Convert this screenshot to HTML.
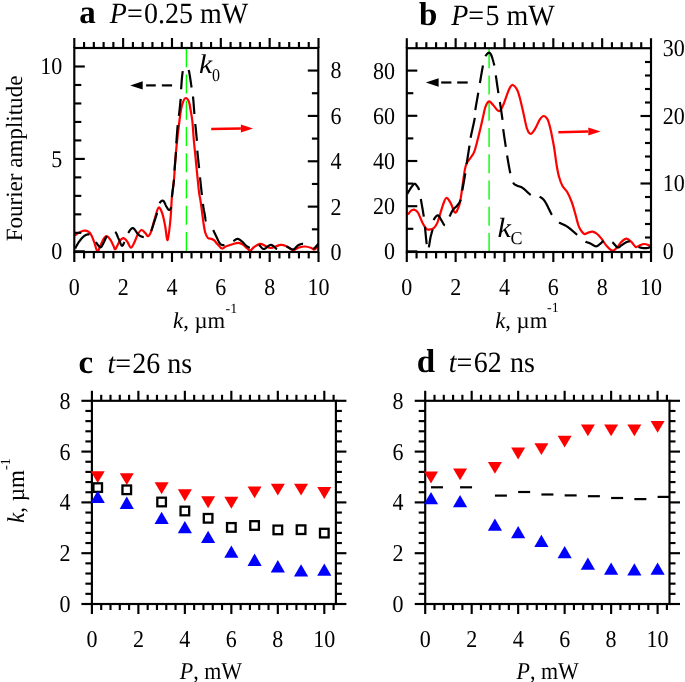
<!DOCTYPE html>
<html><head><meta charset="utf-8"><style>
html,body{margin:0;padding:0;background:#fff;width:685px;height:682px;overflow:hidden;}
svg{display:block;font-family:"Liberation Serif",serif;will-change:transform;}
</style></head><body>
<svg width="685" height="682" viewBox="0 0 685 682" font-family="Liberation Serif, serif" text-rendering="geometricPrecision">
<rect width="685" height="682" fill="#fff"/>
<line x1="91.90" y1="400.80" x2="91.90" y2="390.80" stroke="#000" stroke-width="2.15" />
<line x1="138.38" y1="400.80" x2="138.38" y2="390.80" stroke="#000" stroke-width="2.15" />
<line x1="184.86" y1="400.80" x2="184.86" y2="390.80" stroke="#000" stroke-width="2.15" />
<line x1="231.34" y1="400.80" x2="231.34" y2="390.80" stroke="#000" stroke-width="2.15" />
<line x1="277.82" y1="400.80" x2="277.82" y2="390.80" stroke="#000" stroke-width="2.15" />
<line x1="324.30" y1="400.80" x2="324.30" y2="390.80" stroke="#000" stroke-width="2.15" />
<line x1="101.20" y1="400.80" x2="101.20" y2="394.80" stroke="#000" stroke-width="2.15" />
<line x1="110.49" y1="400.80" x2="110.49" y2="394.80" stroke="#000" stroke-width="2.15" />
<line x1="119.79" y1="400.80" x2="119.79" y2="394.80" stroke="#000" stroke-width="2.15" />
<line x1="129.08" y1="400.80" x2="129.08" y2="394.80" stroke="#000" stroke-width="2.15" />
<line x1="147.68" y1="400.80" x2="147.68" y2="394.80" stroke="#000" stroke-width="2.15" />
<line x1="156.97" y1="400.80" x2="156.97" y2="394.80" stroke="#000" stroke-width="2.15" />
<line x1="166.27" y1="400.80" x2="166.27" y2="394.80" stroke="#000" stroke-width="2.15" />
<line x1="175.56" y1="400.80" x2="175.56" y2="394.80" stroke="#000" stroke-width="2.15" />
<line x1="194.16" y1="400.80" x2="194.16" y2="394.80" stroke="#000" stroke-width="2.15" />
<line x1="203.45" y1="400.80" x2="203.45" y2="394.80" stroke="#000" stroke-width="2.15" />
<line x1="212.75" y1="400.80" x2="212.75" y2="394.80" stroke="#000" stroke-width="2.15" />
<line x1="222.04" y1="400.80" x2="222.04" y2="394.80" stroke="#000" stroke-width="2.15" />
<line x1="240.64" y1="400.80" x2="240.64" y2="394.80" stroke="#000" stroke-width="2.15" />
<line x1="249.93" y1="400.80" x2="249.93" y2="394.80" stroke="#000" stroke-width="2.15" />
<line x1="259.23" y1="400.80" x2="259.23" y2="394.80" stroke="#000" stroke-width="2.15" />
<line x1="268.52" y1="400.80" x2="268.52" y2="394.80" stroke="#000" stroke-width="2.15" />
<line x1="287.12" y1="400.80" x2="287.12" y2="394.80" stroke="#000" stroke-width="2.15" />
<line x1="296.41" y1="400.80" x2="296.41" y2="394.80" stroke="#000" stroke-width="2.15" />
<line x1="305.71" y1="400.80" x2="305.71" y2="394.80" stroke="#000" stroke-width="2.15" />
<line x1="315.00" y1="400.80" x2="315.00" y2="394.80" stroke="#000" stroke-width="2.15" />
<line x1="333.60" y1="400.80" x2="333.60" y2="394.80" stroke="#000" stroke-width="2.15" />
<line x1="91.90" y1="604.00" x2="91.90" y2="614.00" stroke="#000" stroke-width="2.15" />
<line x1="138.38" y1="604.00" x2="138.38" y2="614.00" stroke="#000" stroke-width="2.15" />
<line x1="184.86" y1="604.00" x2="184.86" y2="614.00" stroke="#000" stroke-width="2.15" />
<line x1="231.34" y1="604.00" x2="231.34" y2="614.00" stroke="#000" stroke-width="2.15" />
<line x1="277.82" y1="604.00" x2="277.82" y2="614.00" stroke="#000" stroke-width="2.15" />
<line x1="324.30" y1="604.00" x2="324.30" y2="614.00" stroke="#000" stroke-width="2.15" />
<line x1="101.20" y1="604.00" x2="101.20" y2="610.00" stroke="#000" stroke-width="2.15" />
<line x1="110.49" y1="604.00" x2="110.49" y2="610.00" stroke="#000" stroke-width="2.15" />
<line x1="119.79" y1="604.00" x2="119.79" y2="610.00" stroke="#000" stroke-width="2.15" />
<line x1="129.08" y1="604.00" x2="129.08" y2="610.00" stroke="#000" stroke-width="2.15" />
<line x1="147.68" y1="604.00" x2="147.68" y2="610.00" stroke="#000" stroke-width="2.15" />
<line x1="156.97" y1="604.00" x2="156.97" y2="610.00" stroke="#000" stroke-width="2.15" />
<line x1="166.27" y1="604.00" x2="166.27" y2="610.00" stroke="#000" stroke-width="2.15" />
<line x1="175.56" y1="604.00" x2="175.56" y2="610.00" stroke="#000" stroke-width="2.15" />
<line x1="194.16" y1="604.00" x2="194.16" y2="610.00" stroke="#000" stroke-width="2.15" />
<line x1="203.45" y1="604.00" x2="203.45" y2="610.00" stroke="#000" stroke-width="2.15" />
<line x1="212.75" y1="604.00" x2="212.75" y2="610.00" stroke="#000" stroke-width="2.15" />
<line x1="222.04" y1="604.00" x2="222.04" y2="610.00" stroke="#000" stroke-width="2.15" />
<line x1="240.64" y1="604.00" x2="240.64" y2="610.00" stroke="#000" stroke-width="2.15" />
<line x1="249.93" y1="604.00" x2="249.93" y2="610.00" stroke="#000" stroke-width="2.15" />
<line x1="259.23" y1="604.00" x2="259.23" y2="610.00" stroke="#000" stroke-width="2.15" />
<line x1="268.52" y1="604.00" x2="268.52" y2="610.00" stroke="#000" stroke-width="2.15" />
<line x1="287.12" y1="604.00" x2="287.12" y2="610.00" stroke="#000" stroke-width="2.15" />
<line x1="296.41" y1="604.00" x2="296.41" y2="610.00" stroke="#000" stroke-width="2.15" />
<line x1="305.71" y1="604.00" x2="305.71" y2="610.00" stroke="#000" stroke-width="2.15" />
<line x1="315.00" y1="604.00" x2="315.00" y2="610.00" stroke="#000" stroke-width="2.15" />
<line x1="333.60" y1="604.00" x2="333.60" y2="610.00" stroke="#000" stroke-width="2.15" />
<line x1="91.90" y1="604.00" x2="81.40" y2="604.00" stroke="#000" stroke-width="2.15" />
<line x1="91.90" y1="553.20" x2="81.40" y2="553.20" stroke="#000" stroke-width="2.15" />
<line x1="91.90" y1="502.40" x2="81.40" y2="502.40" stroke="#000" stroke-width="2.15" />
<line x1="91.90" y1="451.60" x2="81.40" y2="451.60" stroke="#000" stroke-width="2.15" />
<line x1="91.90" y1="400.80" x2="81.40" y2="400.80" stroke="#000" stroke-width="2.15" />
<line x1="91.90" y1="593.84" x2="85.40" y2="593.84" stroke="#000" stroke-width="2.15" />
<line x1="91.90" y1="583.68" x2="85.40" y2="583.68" stroke="#000" stroke-width="2.15" />
<line x1="91.90" y1="573.52" x2="85.40" y2="573.52" stroke="#000" stroke-width="2.15" />
<line x1="91.90" y1="563.36" x2="85.40" y2="563.36" stroke="#000" stroke-width="2.15" />
<line x1="91.90" y1="543.04" x2="85.40" y2="543.04" stroke="#000" stroke-width="2.15" />
<line x1="91.90" y1="532.88" x2="85.40" y2="532.88" stroke="#000" stroke-width="2.15" />
<line x1="91.90" y1="522.72" x2="85.40" y2="522.72" stroke="#000" stroke-width="2.15" />
<line x1="91.90" y1="512.56" x2="85.40" y2="512.56" stroke="#000" stroke-width="2.15" />
<line x1="91.90" y1="492.24" x2="85.40" y2="492.24" stroke="#000" stroke-width="2.15" />
<line x1="91.90" y1="482.08" x2="85.40" y2="482.08" stroke="#000" stroke-width="2.15" />
<line x1="91.90" y1="471.92" x2="85.40" y2="471.92" stroke="#000" stroke-width="2.15" />
<line x1="91.90" y1="461.76" x2="85.40" y2="461.76" stroke="#000" stroke-width="2.15" />
<line x1="91.90" y1="441.44" x2="85.40" y2="441.44" stroke="#000" stroke-width="2.15" />
<line x1="91.90" y1="431.28" x2="85.40" y2="431.28" stroke="#000" stroke-width="2.15" />
<line x1="91.90" y1="421.12" x2="85.40" y2="421.12" stroke="#000" stroke-width="2.15" />
<line x1="91.90" y1="410.96" x2="85.40" y2="410.96" stroke="#000" stroke-width="2.15" />
<line x1="335.90" y1="604.00" x2="346.40" y2="604.00" stroke="#000" stroke-width="2.15" />
<line x1="335.90" y1="553.20" x2="346.40" y2="553.20" stroke="#000" stroke-width="2.15" />
<line x1="335.90" y1="502.40" x2="346.40" y2="502.40" stroke="#000" stroke-width="2.15" />
<line x1="335.90" y1="451.60" x2="346.40" y2="451.60" stroke="#000" stroke-width="2.15" />
<line x1="335.90" y1="400.80" x2="346.40" y2="400.80" stroke="#000" stroke-width="2.15" />
<line x1="335.90" y1="593.84" x2="341.90" y2="593.84" stroke="#000" stroke-width="2.15" />
<line x1="335.90" y1="583.68" x2="341.90" y2="583.68" stroke="#000" stroke-width="2.15" />
<line x1="335.90" y1="573.52" x2="341.90" y2="573.52" stroke="#000" stroke-width="2.15" />
<line x1="335.90" y1="563.36" x2="341.90" y2="563.36" stroke="#000" stroke-width="2.15" />
<line x1="335.90" y1="543.04" x2="341.90" y2="543.04" stroke="#000" stroke-width="2.15" />
<line x1="335.90" y1="532.88" x2="341.90" y2="532.88" stroke="#000" stroke-width="2.15" />
<line x1="335.90" y1="522.72" x2="341.90" y2="522.72" stroke="#000" stroke-width="2.15" />
<line x1="335.90" y1="512.56" x2="341.90" y2="512.56" stroke="#000" stroke-width="2.15" />
<line x1="335.90" y1="492.24" x2="341.90" y2="492.24" stroke="#000" stroke-width="2.15" />
<line x1="335.90" y1="482.08" x2="341.90" y2="482.08" stroke="#000" stroke-width="2.15" />
<line x1="335.90" y1="471.92" x2="341.90" y2="471.92" stroke="#000" stroke-width="2.15" />
<line x1="335.90" y1="461.76" x2="341.90" y2="461.76" stroke="#000" stroke-width="2.15" />
<line x1="335.90" y1="441.44" x2="341.90" y2="441.44" stroke="#000" stroke-width="2.15" />
<line x1="335.90" y1="431.28" x2="341.90" y2="431.28" stroke="#000" stroke-width="2.15" />
<line x1="335.90" y1="421.12" x2="341.90" y2="421.12" stroke="#000" stroke-width="2.15" />
<line x1="335.90" y1="410.96" x2="341.90" y2="410.96" stroke="#000" stroke-width="2.15" />
<line x1="425.20" y1="400.80" x2="425.20" y2="390.80" stroke="#000" stroke-width="2.15" />
<line x1="471.68" y1="400.80" x2="471.68" y2="390.80" stroke="#000" stroke-width="2.15" />
<line x1="518.16" y1="400.80" x2="518.16" y2="390.80" stroke="#000" stroke-width="2.15" />
<line x1="564.64" y1="400.80" x2="564.64" y2="390.80" stroke="#000" stroke-width="2.15" />
<line x1="611.12" y1="400.80" x2="611.12" y2="390.80" stroke="#000" stroke-width="2.15" />
<line x1="657.60" y1="400.80" x2="657.60" y2="390.80" stroke="#000" stroke-width="2.15" />
<line x1="434.50" y1="400.80" x2="434.50" y2="394.80" stroke="#000" stroke-width="2.15" />
<line x1="443.79" y1="400.80" x2="443.79" y2="394.80" stroke="#000" stroke-width="2.15" />
<line x1="453.09" y1="400.80" x2="453.09" y2="394.80" stroke="#000" stroke-width="2.15" />
<line x1="462.38" y1="400.80" x2="462.38" y2="394.80" stroke="#000" stroke-width="2.15" />
<line x1="480.98" y1="400.80" x2="480.98" y2="394.80" stroke="#000" stroke-width="2.15" />
<line x1="490.27" y1="400.80" x2="490.27" y2="394.80" stroke="#000" stroke-width="2.15" />
<line x1="499.57" y1="400.80" x2="499.57" y2="394.80" stroke="#000" stroke-width="2.15" />
<line x1="508.86" y1="400.80" x2="508.86" y2="394.80" stroke="#000" stroke-width="2.15" />
<line x1="527.46" y1="400.80" x2="527.46" y2="394.80" stroke="#000" stroke-width="2.15" />
<line x1="536.75" y1="400.80" x2="536.75" y2="394.80" stroke="#000" stroke-width="2.15" />
<line x1="546.05" y1="400.80" x2="546.05" y2="394.80" stroke="#000" stroke-width="2.15" />
<line x1="555.34" y1="400.80" x2="555.34" y2="394.80" stroke="#000" stroke-width="2.15" />
<line x1="573.94" y1="400.80" x2="573.94" y2="394.80" stroke="#000" stroke-width="2.15" />
<line x1="583.23" y1="400.80" x2="583.23" y2="394.80" stroke="#000" stroke-width="2.15" />
<line x1="592.53" y1="400.80" x2="592.53" y2="394.80" stroke="#000" stroke-width="2.15" />
<line x1="601.82" y1="400.80" x2="601.82" y2="394.80" stroke="#000" stroke-width="2.15" />
<line x1="620.42" y1="400.80" x2="620.42" y2="394.80" stroke="#000" stroke-width="2.15" />
<line x1="629.71" y1="400.80" x2="629.71" y2="394.80" stroke="#000" stroke-width="2.15" />
<line x1="639.01" y1="400.80" x2="639.01" y2="394.80" stroke="#000" stroke-width="2.15" />
<line x1="648.30" y1="400.80" x2="648.30" y2="394.80" stroke="#000" stroke-width="2.15" />
<line x1="666.90" y1="400.80" x2="666.90" y2="394.80" stroke="#000" stroke-width="2.15" />
<line x1="425.20" y1="604.00" x2="425.20" y2="614.00" stroke="#000" stroke-width="2.15" />
<line x1="471.68" y1="604.00" x2="471.68" y2="614.00" stroke="#000" stroke-width="2.15" />
<line x1="518.16" y1="604.00" x2="518.16" y2="614.00" stroke="#000" stroke-width="2.15" />
<line x1="564.64" y1="604.00" x2="564.64" y2="614.00" stroke="#000" stroke-width="2.15" />
<line x1="611.12" y1="604.00" x2="611.12" y2="614.00" stroke="#000" stroke-width="2.15" />
<line x1="657.60" y1="604.00" x2="657.60" y2="614.00" stroke="#000" stroke-width="2.15" />
<line x1="434.50" y1="604.00" x2="434.50" y2="610.00" stroke="#000" stroke-width="2.15" />
<line x1="443.79" y1="604.00" x2="443.79" y2="610.00" stroke="#000" stroke-width="2.15" />
<line x1="453.09" y1="604.00" x2="453.09" y2="610.00" stroke="#000" stroke-width="2.15" />
<line x1="462.38" y1="604.00" x2="462.38" y2="610.00" stroke="#000" stroke-width="2.15" />
<line x1="480.98" y1="604.00" x2="480.98" y2="610.00" stroke="#000" stroke-width="2.15" />
<line x1="490.27" y1="604.00" x2="490.27" y2="610.00" stroke="#000" stroke-width="2.15" />
<line x1="499.57" y1="604.00" x2="499.57" y2="610.00" stroke="#000" stroke-width="2.15" />
<line x1="508.86" y1="604.00" x2="508.86" y2="610.00" stroke="#000" stroke-width="2.15" />
<line x1="527.46" y1="604.00" x2="527.46" y2="610.00" stroke="#000" stroke-width="2.15" />
<line x1="536.75" y1="604.00" x2="536.75" y2="610.00" stroke="#000" stroke-width="2.15" />
<line x1="546.05" y1="604.00" x2="546.05" y2="610.00" stroke="#000" stroke-width="2.15" />
<line x1="555.34" y1="604.00" x2="555.34" y2="610.00" stroke="#000" stroke-width="2.15" />
<line x1="573.94" y1="604.00" x2="573.94" y2="610.00" stroke="#000" stroke-width="2.15" />
<line x1="583.23" y1="604.00" x2="583.23" y2="610.00" stroke="#000" stroke-width="2.15" />
<line x1="592.53" y1="604.00" x2="592.53" y2="610.00" stroke="#000" stroke-width="2.15" />
<line x1="601.82" y1="604.00" x2="601.82" y2="610.00" stroke="#000" stroke-width="2.15" />
<line x1="620.42" y1="604.00" x2="620.42" y2="610.00" stroke="#000" stroke-width="2.15" />
<line x1="629.71" y1="604.00" x2="629.71" y2="610.00" stroke="#000" stroke-width="2.15" />
<line x1="639.01" y1="604.00" x2="639.01" y2="610.00" stroke="#000" stroke-width="2.15" />
<line x1="648.30" y1="604.00" x2="648.30" y2="610.00" stroke="#000" stroke-width="2.15" />
<line x1="666.90" y1="604.00" x2="666.90" y2="610.00" stroke="#000" stroke-width="2.15" />
<line x1="425.20" y1="604.00" x2="414.70" y2="604.00" stroke="#000" stroke-width="2.15" />
<line x1="425.20" y1="553.20" x2="414.70" y2="553.20" stroke="#000" stroke-width="2.15" />
<line x1="425.20" y1="502.40" x2="414.70" y2="502.40" stroke="#000" stroke-width="2.15" />
<line x1="425.20" y1="451.60" x2="414.70" y2="451.60" stroke="#000" stroke-width="2.15" />
<line x1="425.20" y1="400.80" x2="414.70" y2="400.80" stroke="#000" stroke-width="2.15" />
<line x1="425.20" y1="593.84" x2="418.70" y2="593.84" stroke="#000" stroke-width="2.15" />
<line x1="425.20" y1="583.68" x2="418.70" y2="583.68" stroke="#000" stroke-width="2.15" />
<line x1="425.20" y1="573.52" x2="418.70" y2="573.52" stroke="#000" stroke-width="2.15" />
<line x1="425.20" y1="563.36" x2="418.70" y2="563.36" stroke="#000" stroke-width="2.15" />
<line x1="425.20" y1="543.04" x2="418.70" y2="543.04" stroke="#000" stroke-width="2.15" />
<line x1="425.20" y1="532.88" x2="418.70" y2="532.88" stroke="#000" stroke-width="2.15" />
<line x1="425.20" y1="522.72" x2="418.70" y2="522.72" stroke="#000" stroke-width="2.15" />
<line x1="425.20" y1="512.56" x2="418.70" y2="512.56" stroke="#000" stroke-width="2.15" />
<line x1="425.20" y1="492.24" x2="418.70" y2="492.24" stroke="#000" stroke-width="2.15" />
<line x1="425.20" y1="482.08" x2="418.70" y2="482.08" stroke="#000" stroke-width="2.15" />
<line x1="425.20" y1="471.92" x2="418.70" y2="471.92" stroke="#000" stroke-width="2.15" />
<line x1="425.20" y1="461.76" x2="418.70" y2="461.76" stroke="#000" stroke-width="2.15" />
<line x1="425.20" y1="441.44" x2="418.70" y2="441.44" stroke="#000" stroke-width="2.15" />
<line x1="425.20" y1="431.28" x2="418.70" y2="431.28" stroke="#000" stroke-width="2.15" />
<line x1="425.20" y1="421.12" x2="418.70" y2="421.12" stroke="#000" stroke-width="2.15" />
<line x1="425.20" y1="410.96" x2="418.70" y2="410.96" stroke="#000" stroke-width="2.15" />
<line x1="669.50" y1="604.00" x2="680.00" y2="604.00" stroke="#000" stroke-width="2.15" />
<line x1="669.50" y1="553.20" x2="680.00" y2="553.20" stroke="#000" stroke-width="2.15" />
<line x1="669.50" y1="502.40" x2="680.00" y2="502.40" stroke="#000" stroke-width="2.15" />
<line x1="669.50" y1="451.60" x2="680.00" y2="451.60" stroke="#000" stroke-width="2.15" />
<line x1="669.50" y1="400.80" x2="680.00" y2="400.80" stroke="#000" stroke-width="2.15" />
<line x1="669.50" y1="593.84" x2="675.50" y2="593.84" stroke="#000" stroke-width="2.15" />
<line x1="669.50" y1="583.68" x2="675.50" y2="583.68" stroke="#000" stroke-width="2.15" />
<line x1="669.50" y1="573.52" x2="675.50" y2="573.52" stroke="#000" stroke-width="2.15" />
<line x1="669.50" y1="563.36" x2="675.50" y2="563.36" stroke="#000" stroke-width="2.15" />
<line x1="669.50" y1="543.04" x2="675.50" y2="543.04" stroke="#000" stroke-width="2.15" />
<line x1="669.50" y1="532.88" x2="675.50" y2="532.88" stroke="#000" stroke-width="2.15" />
<line x1="669.50" y1="522.72" x2="675.50" y2="522.72" stroke="#000" stroke-width="2.15" />
<line x1="669.50" y1="512.56" x2="675.50" y2="512.56" stroke="#000" stroke-width="2.15" />
<line x1="669.50" y1="492.24" x2="675.50" y2="492.24" stroke="#000" stroke-width="2.15" />
<line x1="669.50" y1="482.08" x2="675.50" y2="482.08" stroke="#000" stroke-width="2.15" />
<line x1="669.50" y1="471.92" x2="675.50" y2="471.92" stroke="#000" stroke-width="2.15" />
<line x1="669.50" y1="461.76" x2="675.50" y2="461.76" stroke="#000" stroke-width="2.15" />
<line x1="669.50" y1="441.44" x2="675.50" y2="441.44" stroke="#000" stroke-width="2.15" />
<line x1="669.50" y1="431.28" x2="675.50" y2="431.28" stroke="#000" stroke-width="2.15" />
<line x1="669.50" y1="421.12" x2="675.50" y2="421.12" stroke="#000" stroke-width="2.15" />
<line x1="669.50" y1="410.96" x2="675.50" y2="410.96" stroke="#000" stroke-width="2.15" />
<path d="M186.4,251.1 L186.4,48" stroke="#00ff00" stroke-width="1.4" stroke-dasharray="19 7.25" fill="none"/>
<path d="M489.1,252 L489.1,48" stroke="#00ff00" stroke-width="1.4" stroke-dasharray="19 7.25" fill="none"/>
<path d="M74.80,235.30 C75.63,234.80 78.23,233.07 79.80,232.30 C81.37,231.53 82.73,230.78 84.20,230.70 C85.67,230.62 87.38,231.02 88.60,231.80 C89.82,232.58 90.53,233.58 91.50,235.40 C92.47,237.22 93.42,240.05 94.40,242.70 C95.38,245.35 96.42,250.80 97.40,251.30 C98.38,251.80 99.22,247.85 100.30,245.70 C101.38,243.55 102.82,239.98 103.90,238.40 C104.98,236.82 105.70,235.97 106.80,236.20 C107.90,236.43 109.40,238.22 110.50,239.80 C111.60,241.38 112.58,244.17 113.40,245.70 C114.22,247.23 114.38,249.72 115.40,249.00 C116.42,248.28 118.18,243.22 119.50,241.40 C120.82,239.58 122.03,238.10 123.30,238.10 C124.57,238.10 125.82,239.82 127.10,241.40 C128.38,242.98 129.72,247.60 131.00,247.60 C132.28,247.60 133.70,243.53 134.80,241.40 C135.90,239.27 136.50,236.70 137.60,234.80 C138.70,232.90 140.13,230.32 141.40,230.00 C142.67,229.68 144.08,231.87 145.20,232.90 C146.32,233.93 147.13,236.37 148.10,236.20 C149.07,236.03 149.88,234.83 151.00,231.90 C152.12,228.97 153.53,222.65 154.80,218.60 C156.07,214.55 157.33,208.40 158.60,207.60 C159.87,206.80 161.30,210.70 162.40,213.80 C163.50,216.90 164.33,221.83 165.20,226.20 C166.07,230.57 166.73,241.03 167.60,240.00 C168.47,238.97 169.68,227.13 170.40,220.00 C171.12,212.87 171.30,203.92 171.90,197.20 C172.50,190.48 173.47,185.45 174.00,179.70 C174.53,173.95 174.72,167.87 175.10,162.70 C175.48,157.53 175.87,153.20 176.30,148.70 C176.73,144.20 177.17,140.40 177.70,135.70 C178.23,131.00 178.92,124.98 179.50,120.50 C180.08,116.02 180.52,112.12 181.20,108.80 C181.88,105.48 182.82,102.40 183.60,100.60 C184.38,98.80 185.02,97.82 185.90,98.00 C186.78,98.18 188.12,99.70 188.90,101.70 C189.68,103.70 190.02,106.67 190.60,110.00 C191.18,113.33 191.87,116.70 192.40,121.70 C192.93,126.70 193.35,134.78 193.80,140.00 C194.25,145.22 194.67,148.60 195.10,153.00 C195.53,157.40 195.97,161.98 196.40,166.40 C196.83,170.82 197.25,175.10 197.70,179.50 C198.15,183.90 198.65,189.38 199.10,192.80 C199.55,196.22 199.95,197.13 200.40,200.00 C200.85,202.87 201.28,206.15 201.80,210.00 C202.32,213.85 202.92,219.30 203.50,223.10 C204.08,226.90 204.57,230.32 205.30,232.80 C206.03,235.28 206.88,236.98 207.90,238.00 C208.92,239.02 210.38,238.53 211.40,238.90 C212.42,239.27 212.98,239.32 214.00,240.20 C215.02,241.08 216.18,242.82 217.50,244.20 C218.82,245.58 220.43,248.15 221.90,248.50 C223.37,248.85 224.55,247.02 226.30,246.30 C228.05,245.58 230.37,244.78 232.40,244.20 C234.43,243.62 236.75,242.73 238.50,242.80 C240.25,242.87 241.43,243.65 242.90,244.60 C244.37,245.55 246.05,247.52 247.30,248.50 C248.55,249.48 249.23,250.78 250.40,250.50 C251.57,250.22 252.67,247.90 254.30,246.80 C255.93,245.70 258.37,244.05 260.20,243.90 C262.03,243.75 263.60,245.22 265.30,245.90 C267.00,246.58 268.70,247.90 270.40,248.00 C272.10,248.10 273.78,247.02 275.50,246.50 C277.22,245.98 278.98,245.00 280.70,244.90 C282.42,244.80 284.10,245.22 285.80,245.90 C287.50,246.58 289.55,248.32 290.90,249.00 C292.25,249.68 292.55,250.25 293.90,250.00 C295.25,249.75 297.12,248.08 299.00,247.50 C300.88,246.92 303.15,246.42 305.20,246.50 C307.25,246.58 309.77,247.50 311.30,248.00 C312.83,248.50 313.23,249.78 314.40,249.50 C315.57,249.22 317.65,246.83 318.30,246.30" stroke="#ff0000" stroke-width="2.2" fill="none" stroke-linejoin="round"/>
<path d="M75.10,248.60 L75.17,248.47 L75.26,248.31 L75.35,248.14 L75.45,247.95 L75.55,247.75 L75.67,247.53 L75.79,247.30 L75.91,247.06 L76.05,246.80 L76.19,246.54 L76.33,246.27 L76.47,245.99 L76.63,245.71 L76.78,245.43 L76.94,245.14 L77.10,244.86 L77.26,244.57 L77.42,244.29 L77.58,244.00 L77.75,243.73 L77.91,243.46 L78.08,243.20 L78.24,242.94 L78.40,242.70 L78.56,242.46 L78.73,242.22 L78.90,241.97 L79.08,241.72 L79.26,241.47 L79.44,241.22 L79.63,240.97 L79.81,240.72 L80.00,240.47 L80.20,240.22 L80.39,239.98 L80.58,239.73 L80.77,239.49 L80.97,239.25 L81.16,239.02 L81.35,238.79 L81.54,238.57 L81.73,238.35 L81.92,238.14 L82.10,237.93 L82.28,237.74 L82.46,237.55 L82.63,237.37 L82.80,237.20 L82.97,237.04 L83.13,236.88 L83.29,236.74 L83.45,236.60 L83.61,236.46 L83.77,236.33 L83.92,236.21 L84.08,236.09 L84.23,235.98 L84.38,235.87 L84.53,235.77 L84.68,235.67 L84.83,235.58 L84.98,235.49 L85.12,235.40 L85.27,235.32 L85.41,235.25 L85.55,235.17 L85.70,235.10 L85.84,235.04 L85.98,234.97 L86.12,234.91 L86.26,234.86 L86.40,234.80 L86.54,234.75 L86.68,234.70 L86.81,234.65 L86.95,234.61 L87.08,234.57 L87.21,234.53 L87.34,234.50 L87.47,234.47 L87.60,234.44 L87.73,234.42 L87.86,234.40 L87.99,234.39 L88.11,234.38 L88.24,234.37 L88.37,234.37 L88.49,234.38 L88.62,234.39 L88.74,234.40 L88.87,234.42 L88.99,234.45 L89.12,234.48 L89.25,234.51 L89.37,234.55 L89.50,234.60 M95.90,242.00 L96.02,242.18 L96.14,242.36 L96.26,242.54 L96.38,242.72 L96.50,242.90 L96.61,243.08 L96.72,243.26 L96.83,243.43 L96.94,243.61 L97.05,243.78 L97.15,243.95 L97.26,244.12 L97.36,244.28 L97.46,244.44 L97.57,244.60 L97.67,244.76 L97.77,244.90 L97.88,245.05 L97.98,245.19 L98.08,245.32 L98.19,245.45 L98.29,245.57 L98.39,245.69 L98.50,245.80 L98.61,245.91 L98.71,246.02 L98.81,246.13 L98.92,246.24 L99.02,246.34 L99.12,246.45 L99.22,246.55 L99.32,246.66 L99.42,246.75 L99.52,246.84 L99.62,246.93 L99.72,247.01 L99.83,247.08 L99.93,247.14 L100.03,247.19 L100.13,247.23 L100.24,247.26 L100.34,247.28 L100.45,247.29 L100.56,247.28 L100.66,247.26 L100.77,247.22 L100.89,247.17 L101.00,247.10 L101.12,247.01 L101.23,246.90 L101.35,246.77 L101.47,246.63 L101.60,246.47 L101.72,246.29 L101.84,246.10 L101.97,245.90 L102.10,245.69 L102.22,245.46 L102.35,245.23 L102.48,244.99 L102.61,244.75 L102.74,244.50 L102.87,244.25 L103.00,243.99 L103.12,243.73 L103.25,243.47 L103.38,243.22 L103.51,242.96 L103.63,242.71 L103.76,242.47 L103.88,242.23 L104.00,242.00 L104.12,241.77 L104.24,241.53 L104.35,241.29 L104.46,241.05 L104.58,240.80 L104.69,240.55 L104.80,240.30 L104.90,240.04 L105.01,239.78 L105.12,239.53 L105.23,239.27 L105.34,239.01 L105.45,238.76 L105.56,238.50 L105.67,238.25 L105.79,238.00 L105.90,237.76 L106.02,237.52 L106.14,237.28 L106.27,237.05 L106.39,236.83 L106.53,236.61 L106.66,236.40 L106.80,236.20 M115.20,231.90 L115.36,232.04 L115.51,232.20 L115.66,232.38 L115.81,232.58 L115.96,232.79 L116.10,233.03 L116.24,233.28 L116.38,233.54 L116.51,233.82 L116.65,234.11 L116.78,234.41 L116.91,234.71 L117.04,235.03 L117.17,235.34 L117.30,235.66 L117.43,235.99 L117.56,236.31 L117.69,236.64 L117.82,236.96 L117.96,237.28 L118.09,237.60 L118.23,237.91 L118.36,238.21 L118.50,238.50 L118.64,238.80 L118.78,239.11 L118.93,239.45 L119.07,239.79 L119.22,240.15 L119.37,240.52 L119.51,240.89 L119.66,241.26 L119.81,241.64 L119.96,242.01 L120.11,242.39 L120.26,242.75 L120.40,243.11 L120.55,243.45 L120.69,243.78 L120.84,244.09 L120.98,244.39 L121.12,244.66 L121.26,244.91 L121.39,245.13 L121.52,245.32 L121.65,245.48 L121.78,245.61 L121.90,245.70 L122.02,245.75 L122.14,245.78 L122.25,245.77 L122.37,245.73 L122.48,245.66 L122.59,245.57 L122.69,245.46 L122.80,245.33 L122.90,245.17 L123.01,245.00 L123.11,244.82 L123.21,244.62 L123.30,244.41 L123.40,244.19 L123.50,243.96 L123.59,243.73 L123.68,243.49 L123.77,243.26 L123.86,243.02 L123.95,242.78 L124.04,242.55 L124.13,242.33 L124.21,242.11 L124.30,241.90 M128.10,232.90 L128.25,232.72 L128.40,232.52 L128.56,232.30 L128.73,232.07 L128.91,231.81 L129.09,231.55 L129.28,231.28 L129.47,231.00 L129.66,230.72 L129.86,230.44 L130.07,230.16 L130.27,229.89 L130.49,229.62 L130.70,229.37 L130.92,229.13 L131.13,228.91 L131.35,228.71 L131.57,228.53 L131.79,228.38 L132.02,228.25 L132.24,228.16 L132.46,228.10 L132.68,228.08 L132.90,228.10 L133.12,228.16 L133.35,228.27 L133.57,228.42 L133.80,228.60 L134.04,228.82 L134.27,229.07 L134.51,229.35 L134.75,229.64 L134.99,229.96 L135.24,230.30 L135.48,230.65 L135.72,231.01 L135.97,231.37 L136.21,231.74 L136.46,232.10 L136.70,232.47 L136.95,232.82 L137.19,233.16 L137.43,233.49 L137.67,233.80 L137.91,234.09 L138.14,234.36 L138.37,234.60 L138.60,234.80 L138.83,234.98 L139.06,235.16 L139.28,235.32 L139.51,235.48 L139.74,235.63 L139.97,235.78 L140.20,235.91 L140.43,236.04 L140.65,236.16 L140.88,236.27 L141.10,236.37 L141.32,236.47 L141.55,236.56 L141.76,236.64 L141.98,236.72 L142.20,236.79 L142.41,236.85 L142.62,236.90 L142.82,236.95 L143.03,236.99 L143.23,237.03 L143.42,237.06 L143.61,237.08 L143.80,237.10 M151.00,231.00 L151.14,230.71 L151.28,230.41 L151.42,230.09 L151.55,229.76 L151.69,229.42 L151.83,229.07 L151.96,228.71 L152.10,228.34 L152.24,227.96 L152.37,227.57 L152.50,227.18 L152.64,226.79 L152.77,226.39 L152.90,225.98 L153.04,225.58 L153.17,225.17 L153.30,224.77 L153.43,224.36 L153.56,223.96 L153.69,223.56 L153.82,223.16 L153.94,222.77 L154.07,222.38 L154.20,222.00 L154.33,221.62 L154.45,221.25 L154.58,220.87 L154.71,220.49 L154.83,220.12 L154.96,219.74 L155.08,219.37 L155.20,218.99 L155.33,218.62 L155.45,218.24 L155.57,217.86 L155.69,217.49 L155.81,217.11 L155.94,216.73 L156.05,216.35 L156.17,215.97 L156.29,215.59 L156.41,215.21 L156.53,214.83 L156.64,214.45 L156.76,214.06 L156.87,213.68 L156.99,213.29 L157.10,212.90 M159.60,203.30 L159.73,203.05 L159.86,202.82 L160.00,202.59 L160.14,202.38 L160.29,202.18 L160.43,201.99 L160.58,201.81 L160.74,201.64 L160.89,201.49 L161.05,201.35 L161.20,201.22 L161.36,201.11 L161.52,201.00 L161.68,200.92 L161.84,200.84 L162.00,200.78 L162.15,200.73 L162.31,200.70 L162.46,200.68 L162.62,200.67 L162.77,200.68 L162.91,200.71 L163.06,200.75 L163.20,200.80 L163.34,200.88 L163.48,200.98 L163.61,201.12 L163.75,201.28 L163.89,201.46 L164.02,201.66 L164.16,201.88 L164.29,202.11 L164.42,202.36 L164.55,202.62 L164.68,202.89 L164.81,203.17 L164.94,203.45 L165.07,203.74 L165.20,204.03 L165.32,204.31 L165.45,204.59 L165.57,204.87 L165.70,205.14 L165.82,205.40 L165.94,205.65 L166.06,205.88 L166.18,206.10 L166.30,206.30 L166.42,206.49 L166.54,206.69 L166.65,206.89 L166.77,207.09 L166.88,207.29 L166.99,207.49 L167.11,207.68 L167.22,207.88 L167.33,208.07 L167.44,208.26 L167.55,208.45 L167.66,208.63 L167.76,208.80 L167.87,208.96 L167.98,209.11 L168.08,209.25 L168.19,209.38 L168.29,209.50 L168.39,209.61 L168.50,209.70 L168.60,209.77 L168.70,209.83 L168.80,209.88 L168.90,209.90 L169.00,209.91 L169.10,209.91 L169.20,209.90 L169.31,209.87 L169.41,209.84 L169.51,209.79 L169.61,209.74 L169.71,209.67 L169.82,209.59 L169.92,209.50 L170.01,209.40 L170.11,209.29 L170.21,209.16 L170.30,209.03 L170.40,208.88 L170.49,208.72 L170.57,208.55 L170.66,208.36 L170.74,208.17 L170.82,207.96 L170.89,207.74 L170.97,207.50 L171.04,207.26 L171.10,207.00 M171.90,197.20 L171.96,196.61 L172.03,195.98 L172.11,195.32 L172.19,194.63 L172.28,193.91 L172.37,193.17 L172.47,192.41 L172.56,191.63 L172.66,190.84 L172.76,190.03 L172.87,189.22 L172.97,188.41 L173.07,187.60 L173.17,186.79 L173.27,185.99 L173.37,185.20 L173.47,184.43 L173.56,183.67 L173.64,182.94 L173.73,182.23 L173.81,181.54 L173.88,180.89 L173.94,180.28 L174.00,179.70 M174.50,170.50 L174.54,169.90 L174.59,169.25 L174.65,168.56 L174.71,167.84 L174.77,167.08 L174.83,166.30 L174.90,165.49 L174.97,164.66 L175.04,163.81 L175.11,162.95 L175.19,162.08 L175.26,161.21 L175.34,160.34 L175.41,159.48 L175.48,158.62 L175.55,157.78 L175.62,156.95 L175.69,156.15 L175.75,155.37 L175.81,154.62 L175.86,153.90 L175.91,153.22 L175.96,152.59 L176.00,152.00 M176.30,143.40 L176.34,142.82 L176.38,142.19 L176.42,141.52 L176.47,140.82 L176.52,140.08 L176.58,139.32 L176.63,138.53 L176.69,137.72 L176.75,136.89 L176.82,136.05 L176.88,135.20 L176.94,134.35 L177.01,133.50 L177.08,132.65 L177.14,131.80 L177.21,130.97 L177.27,130.15 L177.34,129.36 L177.40,128.58 L177.47,127.84 L177.53,127.12 L177.59,126.44 L177.64,125.80 L177.70,125.20 M178.90,115.80 L178.96,115.23 L179.03,114.63 L179.11,113.99 L179.18,113.32 L179.26,112.63 L179.34,111.91 L179.42,111.17 L179.51,110.42 L179.59,109.65 L179.68,108.88 L179.76,108.09 L179.85,107.31 L179.93,106.52 L180.02,105.74 L180.10,104.96 L180.18,104.19 L180.26,103.44 L180.33,102.70 L180.41,101.98 L180.47,101.29 L180.54,100.62 L180.60,99.98 L180.65,99.37 L180.70,98.80 M181.10,89.30 L181.14,88.70 L181.19,88.05 L181.24,87.35 L181.29,86.62 L181.35,85.85 L181.41,85.05 L181.46,84.22 L181.53,83.38 L181.59,82.52 L181.66,81.65 L181.72,80.78 L181.79,79.91 L181.87,79.04 L181.94,78.17 L182.02,77.33 L182.10,76.50 L182.18,75.69 L182.26,74.91 L182.35,74.17 L182.43,73.46 L182.52,72.79 L182.61,72.18 L182.71,71.61 L182.80,71.10 M188.70,70.00 L188.82,70.47 L188.95,71.00 L189.08,71.59 L189.21,72.22 L189.34,72.89 L189.47,73.60 L189.60,74.35 L189.73,75.13 L189.86,75.93 L189.99,76.74 L190.12,77.58 L190.25,78.42 L190.38,79.27 L190.50,80.11 L190.63,80.95 L190.75,81.79 L190.87,82.60 L190.98,83.40 L191.10,84.17 L191.20,84.92 L191.31,85.62 L191.41,86.30 L191.51,86.92 L191.60,87.50 M193.00,96.50 L193.06,97.07 L193.12,97.68 L193.18,98.33 L193.24,99.01 L193.30,99.72 L193.36,100.45 L193.42,101.21 L193.49,101.98 L193.55,102.77 L193.61,103.57 L193.67,104.38 L193.73,105.19 L193.79,106.00 L193.85,106.81 L193.91,107.61 L193.97,108.41 L194.03,109.19 L194.09,109.95 L194.14,110.70 L194.20,111.42 L194.25,112.11 L194.30,112.78 L194.35,113.41 L194.40,114.00 M195.30,124.00 L195.35,124.58 L195.41,125.19 L195.47,125.83 L195.54,126.50 L195.61,127.19 L195.68,127.91 L195.75,128.64 L195.83,129.39 L195.90,130.15 L195.98,130.92 L196.05,131.69 L196.13,132.47 L196.21,133.25 L196.28,134.02 L196.36,134.79 L196.43,135.54 L196.50,136.29 L196.57,137.02 L196.63,137.73 L196.69,138.42 L196.75,139.08 L196.81,139.72 L196.86,140.33 L196.90,140.90 M197.30,150.60 L197.35,151.19 L197.40,151.81 L197.46,152.47 L197.53,153.16 L197.60,153.88 L197.67,154.62 L197.75,155.38 L197.83,156.16 L197.91,156.95 L198.00,157.75 L198.08,158.56 L198.17,159.37 L198.26,160.19 L198.34,160.99 L198.43,161.80 L198.51,162.59 L198.60,163.36 L198.68,164.12 L198.76,164.86 L198.84,165.57 L198.91,166.25 L198.98,166.90 L199.04,167.52 L199.10,168.10 M200.00,177.40 L200.06,177.98 L200.13,178.60 L200.20,179.26 L200.27,179.95 L200.35,180.68 L200.43,181.42 L200.51,182.19 L200.59,182.98 L200.68,183.78 L200.77,184.59 L200.85,185.41 L200.94,186.23 L201.03,187.05 L201.12,187.87 L201.21,188.68 L201.30,189.48 L201.38,190.26 L201.46,191.02 L201.55,191.77 L201.62,192.48 L201.70,193.16 L201.77,193.82 L201.84,194.43 L201.90,195.00 M202.90,203.80 L202.95,204.15 L203.00,204.50 L203.05,204.85 L203.11,205.19 L203.16,205.53 L203.21,205.86 L203.27,206.20 L203.32,206.53 L203.38,206.87 L203.43,207.20 L203.49,207.53 L203.55,207.86 L203.61,208.20 L203.67,208.53 L203.73,208.86 L203.79,209.20 L203.85,209.54 L203.91,209.88 L203.98,210.22 L204.04,210.57 L204.10,210.92 L204.17,211.28 L204.23,211.64 L204.30,212.00 L204.37,212.37 L204.43,212.76 L204.49,213.15 L204.56,213.55 L204.62,213.95 L204.68,214.37 L204.75,214.78 L204.81,215.20 L204.88,215.63 L204.94,216.05 L205.01,216.47 L205.08,216.89 L205.14,217.31 L205.22,217.73 L205.29,218.14 L205.37,218.54 L205.45,218.94 L205.53,219.32 L205.61,219.70 L205.70,220.07 L205.80,220.42 L205.89,220.76 L205.99,221.09 L206.10,221.40 M213.10,230.10 L213.24,230.31 L213.37,230.52 L213.51,230.75 L213.64,230.97 L213.77,231.21 L213.90,231.45 L214.03,231.69 L214.16,231.94 L214.28,232.20 L214.41,232.46 L214.53,232.72 L214.66,232.99 L214.78,233.26 L214.91,233.53 L215.03,233.80 L215.16,234.08 L215.28,234.35 L215.41,234.63 L215.54,234.91 L215.67,235.19 L215.80,235.47 L215.93,235.75 L216.06,236.02 L216.20,236.30 L216.34,236.58 L216.48,236.87 L216.63,237.17 L216.78,237.48 L216.93,237.80 L217.08,238.12 L217.23,238.45 L217.39,238.77 L217.54,239.10 L217.70,239.43 L217.85,239.76 L218.01,240.09 L218.16,240.41 L218.31,240.73 L218.47,241.04 L218.61,241.34 L218.76,241.63 L218.91,241.91 L219.05,242.18 L219.19,242.44 L219.32,242.68 L219.45,242.90 L219.58,243.11 L219.70,243.30 L219.82,243.47 L219.93,243.63 L220.03,243.77 L220.14,243.90 L220.24,244.01 L220.33,244.11 L220.42,244.21 L220.51,244.29 L220.60,244.36 L220.69,244.43 L220.77,244.48 L220.86,244.53 L220.94,244.57 L221.02,244.61 L221.10,244.65 L221.19,244.68 L221.27,244.71 L221.35,244.73 L221.44,244.76 L221.53,244.78 L221.61,244.81 L221.71,244.84 L221.80,244.87 L221.90,244.90 L222.00,244.93 L222.10,244.97 L222.19,245.00 L222.29,245.02 L222.38,245.05 L222.48,245.07 L222.57,245.09 L222.67,245.10 L222.76,245.12 L222.86,245.13 L222.96,245.14 L223.06,245.14 L223.16,245.15 L223.26,245.15 L223.37,245.15 L223.48,245.14 L223.59,245.13 L223.71,245.12 L223.83,245.11 L223.95,245.09 L224.08,245.07 L224.22,245.05 L224.35,245.03 L224.50,245.00 M233.30,241.10 L233.48,241.00 L233.66,240.89 L233.85,240.78 L234.03,240.67 L234.21,240.55 L234.40,240.42 L234.58,240.30 L234.76,240.17 L234.95,240.05 L235.13,239.93 L235.32,239.81 L235.50,239.69 L235.68,239.57 L235.87,239.47 L236.05,239.36 L236.24,239.27 L236.42,239.18 L236.60,239.11 L236.79,239.04 L236.97,238.99 L237.15,238.94 L237.34,238.91 L237.52,238.90 L237.70,238.90 L237.88,238.91 L238.06,238.94 L238.24,238.98 L238.42,239.03 L238.60,239.10 L238.78,239.17 L238.96,239.25 L239.14,239.34 L239.32,239.44 L239.49,239.55 L239.67,239.67 L239.85,239.79 L240.03,239.91 L240.21,240.05 L240.38,240.18 L240.56,240.32 L240.74,240.47 L240.92,240.61 L241.10,240.76 L241.28,240.91 L241.46,241.06 L241.64,241.21 L241.82,241.35 L242.00,241.50 L242.18,241.65 L242.37,241.81 L242.55,241.98 L242.74,242.16 L242.93,242.34 L243.11,242.53 L243.30,242.73 L243.49,242.93 L243.68,243.13 L243.87,243.34 L244.06,243.54 L244.25,243.75 L244.44,243.96 L244.63,244.16 L244.81,244.36 L245.00,244.56 L245.18,244.75 L245.36,244.94 L245.54,245.12 L245.72,245.30 L245.89,245.46 L246.06,245.62 L246.23,245.76 L246.40,245.90 L246.56,246.03 L246.72,246.15 L246.87,246.27 L247.02,246.39 L247.17,246.50 L247.31,246.60 L247.45,246.71 L247.59,246.80 L247.73,246.90 L247.87,246.99 L248.00,247.07 L248.14,247.15 L248.27,247.22 L248.41,247.29 L248.55,247.36 L248.69,247.42 L248.83,247.47 L248.97,247.52 L249.11,247.57 L249.26,247.60 L249.42,247.64 L249.57,247.66 L249.73,247.68 L249.90,247.70 M258.70,244.90 L258.89,244.97 L259.09,245.07 L259.28,245.20 L259.47,245.35 L259.67,245.52 L259.86,245.72 L260.06,245.93 L260.26,246.15 L260.46,246.38 L260.66,246.62 L260.86,246.86 L261.07,247.11 L261.28,247.35 L261.49,247.58 L261.70,247.81 L261.92,248.03 L262.14,248.23 L262.36,248.42 L262.59,248.58 L262.82,248.73 L263.06,248.84 L263.30,248.93 L263.55,248.98 L263.80,249.00 L264.06,248.98 L264.32,248.92 L264.60,248.82 L264.88,248.70 L265.16,248.54 L265.46,248.36 L265.75,248.16 L266.05,247.94 L266.36,247.70 L266.66,247.46 L266.97,247.21 L267.28,246.95 L267.59,246.69 L267.90,246.44 L268.22,246.20 L268.53,245.96 L268.83,245.74 L269.14,245.54 L269.45,245.36 L269.75,245.20 L270.04,245.08 L270.33,244.98 L270.62,244.92 L270.90,244.90 L271.18,244.92 L271.45,244.97 L271.73,245.06 L272.01,245.17 L272.28,245.32 L272.56,245.48 L272.83,245.66 L273.10,245.87 L273.37,246.08 L273.64,246.31 L273.90,246.55 L274.17,246.79 L274.43,247.03 L274.69,247.27 L274.95,247.51 L275.20,247.74 L275.45,247.97 L275.70,248.18 L275.94,248.37 L276.18,248.55 L276.42,248.70 L276.65,248.83 L276.88,248.93 L277.10,249.00 M286.30,246.50 L286.54,246.55 L286.79,246.63 L287.05,246.73 L287.31,246.85 L287.58,246.99 L287.86,247.14 L288.14,247.30 L288.42,247.47 L288.71,247.64 L289.00,247.83 L289.29,248.01 L289.58,248.19 L289.87,248.37 L290.17,248.55 L290.46,248.72 L290.74,248.88 L291.03,249.02 L291.31,249.16 L291.59,249.27 L291.87,249.36 L292.13,249.44 L292.40,249.49 L292.65,249.51 L292.90,249.50 L293.14,249.46 L293.38,249.40 L293.61,249.31 L293.84,249.20 L294.06,249.06 L294.28,248.91 L294.50,248.75 L294.71,248.56 L294.92,248.37 L295.13,248.16 L295.34,247.95 L295.54,247.73 L295.75,247.51 L295.95,247.28 L296.15,247.06 L296.36,246.84 L296.56,246.62 L296.76,246.41 L296.96,246.21 L297.17,246.02 L297.37,245.84 L297.58,245.67 L297.79,245.53 L298.00,245.40 L298.21,245.28 L298.43,245.17 L298.64,245.06 L298.85,244.95 L299.07,244.85 L299.28,244.75 L299.49,244.65 L299.71,244.56 L299.92,244.47 L300.14,244.38 L300.35,244.30 L300.56,244.23 L300.78,244.16 L300.99,244.10 L301.20,244.05 L301.41,244.00 L301.63,243.96 L301.84,243.93 L302.05,243.90 L302.26,243.88 L302.47,243.87 L302.68,243.87 L302.89,243.88 L303.10,243.90 M312.80,249.00 L313.00,248.95 L313.20,248.88 L313.41,248.78 L313.62,248.66 L313.83,248.52 L314.05,248.36 L314.27,248.18 L314.49,248.00 L314.70,247.80 L314.92,247.59 L315.13,247.37 L315.34,247.15 L315.55,246.93 L315.76,246.70 L315.95,246.48 L316.15,246.26 L316.34,246.05 L316.51,245.84 L316.69,245.65 L316.85,245.46 L317.00,245.29 L317.15,245.14 L317.28,245.01 L317.40,244.90 L317.51,244.81 L317.61,244.72 L317.70,244.65 L317.77,244.58 L317.84,244.52 L317.91,244.47 L317.96,244.43 L318.01,244.39 L318.05,244.36 L318.08,244.33 L318.11,244.31 L318.14,244.29 L318.16,244.28 L318.18,244.27 L318.19,244.26 L318.20,244.26 L318.21,244.25 L318.22,244.25 L318.23,244.24 L318.24,244.24 L318.26,244.23 L318.27,244.22 L318.28,244.21 L318.30,244.20 " stroke="#000" stroke-width="2.2" fill="none" stroke-linejoin="round"/>
<path d="M407.90,214.50 C408.38,213.92 409.78,211.82 410.80,211.00 C411.82,210.18 412.82,209.35 414.00,209.60 C415.18,209.85 416.47,210.25 417.90,212.50 C419.33,214.75 421.13,220.32 422.60,223.10 C424.07,225.88 425.47,228.15 426.70,229.20 C427.93,230.25 428.93,229.48 430.00,229.40 C431.07,229.32 431.90,229.75 433.10,228.70 C434.30,227.65 435.83,226.18 437.20,223.10 C438.57,220.02 440.17,213.72 441.30,210.20 C442.43,206.68 443.12,204.05 444.00,202.00 C444.88,199.95 445.48,197.72 446.60,197.90 C447.72,198.08 449.33,200.67 450.70,203.10 C452.07,205.53 453.62,211.52 454.80,212.50 C455.98,213.48 456.92,210.75 457.80,209.00 C458.68,207.25 459.33,205.72 460.10,202.00 C460.87,198.28 461.60,192.13 462.40,186.70 C463.20,181.27 464.15,173.38 464.90,169.40 C465.65,165.42 465.92,164.78 466.90,162.80 C467.88,160.82 469.60,159.27 470.80,157.50 C472.00,155.73 473.10,154.62 474.10,152.20 C475.10,149.78 475.80,146.73 476.80,143.00 C477.80,139.27 479.00,134.42 480.10,129.80 C481.20,125.18 482.50,119.17 483.40,115.30 C484.30,111.43 484.55,108.92 485.50,106.60 C486.45,104.28 487.90,101.75 489.10,101.40 C490.30,101.05 491.07,102.87 492.70,104.50 C494.33,106.13 497.18,111.03 498.90,111.20 C500.62,111.37 501.63,108.32 503.00,105.50 C504.37,102.68 505.90,97.37 507.10,94.30 C508.30,91.23 509.23,88.65 510.20,87.10 C511.17,85.55 511.77,84.62 512.90,85.00 C514.03,85.38 515.83,87.20 517.00,89.40 C518.17,91.60 518.82,94.20 519.90,98.20 C520.98,102.20 522.32,108.32 523.50,113.40 C524.68,118.48 525.80,125.28 527.00,128.70 C528.20,132.12 529.33,133.90 530.70,133.90 C532.07,133.90 533.67,131.13 535.20,128.70 C536.73,126.27 538.50,121.42 539.90,119.30 C541.30,117.18 542.33,116.00 543.60,116.00 C544.87,116.00 546.37,117.18 547.50,119.30 C548.63,121.42 549.52,125.18 550.40,128.70 C551.28,132.22 552.12,136.85 552.80,140.40 C553.48,143.95 553.87,145.90 554.50,150.00 C555.13,154.10 555.85,160.55 556.60,165.00 C557.35,169.45 558.02,173.18 559.00,176.70 C559.98,180.22 561.13,183.55 562.50,186.10 C563.87,188.65 565.63,189.27 567.20,192.00 C568.77,194.73 570.53,198.78 571.90,202.50 C573.27,206.22 574.33,210.55 575.40,214.30 C576.47,218.05 577.48,222.50 578.30,225.00 C579.12,227.50 579.30,227.80 580.30,229.30 C581.30,230.80 583.05,233.42 584.30,234.00 C585.55,234.58 586.43,233.18 587.80,232.80 C589.17,232.42 590.93,231.50 592.50,231.70 C594.07,231.90 595.63,232.73 597.20,234.00 C598.77,235.27 600.35,237.35 601.90,239.30 C603.45,241.25 604.75,243.82 606.50,245.70 C608.25,247.58 610.65,250.32 612.40,250.60 C614.15,250.88 615.45,248.90 617.00,247.40 C618.55,245.90 620.13,243.05 621.70,241.60 C623.27,240.15 624.83,238.70 626.40,238.70 C627.97,238.70 629.55,240.23 631.10,241.60 C632.65,242.97 634.35,246.22 635.70,246.90 C637.05,247.58 637.83,246.18 639.20,245.70 C640.57,245.22 642.33,244.10 643.90,244.00 C645.47,243.90 647.42,244.67 648.60,245.10 C649.78,245.53 650.60,246.35 651.00,246.60" stroke="#ff0000" stroke-width="2.2" fill="none" stroke-linejoin="round"/>
<path d="M407.30,193.80 L407.38,193.67 L407.47,193.51 L407.58,193.33 L407.69,193.14 L407.82,192.93 L407.95,192.70 L408.09,192.46 L408.24,192.20 L408.39,191.94 L408.55,191.67 L408.71,191.39 L408.88,191.11 L409.05,190.82 L409.22,190.53 L409.40,190.24 L409.57,189.95 L409.75,189.67 L409.92,189.39 L410.09,189.11 L410.26,188.85 L410.43,188.59 L410.59,188.35 L410.75,188.12 L410.90,187.90 L411.05,187.69 L411.20,187.48 L411.35,187.26 L411.50,187.04 L411.66,186.83 L411.81,186.61 L411.96,186.39 L412.12,186.18 L412.27,185.97 L412.43,185.77 L412.58,185.56 L412.73,185.37 L412.88,185.18 L413.03,185.00 L413.18,184.83 L413.33,184.66 L413.47,184.51 L413.61,184.37 L413.75,184.24 L413.89,184.12 L414.02,184.02 L414.15,183.93 L414.28,183.86 L414.40,183.80 L414.52,183.76 L414.63,183.74 L414.74,183.72 L414.85,183.73 L414.96,183.75 L415.06,183.77 L415.16,183.81 L415.25,183.87 L415.35,183.93 L415.44,184.00 L415.53,184.08 L415.62,184.17 L415.71,184.26 L415.80,184.37 L415.88,184.48 L415.97,184.59 L416.06,184.71 L416.15,184.83 L416.23,184.95 L416.32,185.08 L416.42,185.21 L416.51,185.34 L416.60,185.47 L416.70,185.60 L416.80,185.73 L416.90,185.86 L417.00,185.99 L417.10,186.13 L417.21,186.27 L417.31,186.41 L417.41,186.55 L417.52,186.70 L417.62,186.86 L417.73,187.02 L417.83,187.18 L417.94,187.35 L418.04,187.53 L418.14,187.71 L418.25,187.90 L418.35,188.10 L418.45,188.30 L418.55,188.52 L418.64,188.74 L418.74,188.97 L418.83,189.21 L418.92,189.46 L419.01,189.73 L419.10,190.00 M420.80,199.00 L420.90,199.58 L421.01,200.19 L421.13,200.84 L421.25,201.52 L421.37,202.24 L421.50,202.97 L421.64,203.73 L421.77,204.51 L421.91,205.30 L422.05,206.11 L422.20,206.92 L422.34,207.74 L422.48,208.56 L422.62,209.37 L422.76,210.18 L422.89,210.98 L423.02,211.76 L423.15,212.53 L423.28,213.28 L423.39,214.01 L423.51,214.70 L423.61,215.37 L423.71,216.00 L423.80,216.60 M424.90,226.60 L424.96,227.20 L425.03,227.83 L425.09,228.51 L425.17,229.22 L425.24,229.96 L425.31,230.72 L425.39,231.50 L425.47,232.31 L425.55,233.12 L425.63,233.95 L425.71,234.78 L425.79,235.61 L425.87,236.43 L425.95,237.25 L426.03,238.06 L426.11,238.85 L426.19,239.62 L426.27,240.36 L426.35,241.08 L426.42,241.77 L426.49,242.42 L426.57,243.02 L426.63,243.59 L426.70,244.10 M428.80,247.40 L428.86,247.11 L428.91,246.80 L428.98,246.45 L429.04,246.08 L429.11,245.69 L429.18,245.28 L429.25,244.85 L429.32,244.40 L429.40,243.94 L429.47,243.47 L429.55,242.99 L429.63,242.51 L429.71,242.02 L429.79,241.52 L429.87,241.03 L429.96,240.54 L430.04,240.06 L430.12,239.58 L430.20,239.11 L430.28,238.66 L430.36,238.21 L430.44,237.79 L430.52,237.38 L430.60,237.00 L430.68,236.63 L430.76,236.28 L430.84,235.94 L430.92,235.60 L431.00,235.28 L431.08,234.97 L431.17,234.66 L431.25,234.36 L431.34,234.06 L431.42,233.77 L431.50,233.48 L431.59,233.19 L431.67,232.90 L431.75,232.61 L431.83,232.32 L431.91,232.03 L431.99,231.74 L432.07,231.44 L432.15,231.14 L432.22,230.83 L432.30,230.51 L432.37,230.18 L432.43,229.85 L432.50,229.50 M433.70,220.10 L433.82,219.81 L433.94,219.51 L434.08,219.22 L434.22,218.94 L434.38,218.65 L434.54,218.37 L434.70,218.10 L434.87,217.84 L435.05,217.58 L435.23,217.33 L435.42,217.10 L435.61,216.87 L435.80,216.65 L435.99,216.45 L436.18,216.27 L436.37,216.10 L436.56,215.94 L436.75,215.80 L436.94,215.68 L437.12,215.58 L437.30,215.51 L437.47,215.45 L437.64,215.41 L437.80,215.40 L437.96,215.42 L438.11,215.46 L438.27,215.53 L438.42,215.63 L438.57,215.76 L438.71,215.90 L438.86,216.06 L439.01,216.25 L439.15,216.45 L439.30,216.66 L439.44,216.89 L439.58,217.13 L439.72,217.37 L439.86,217.62 L440.01,217.88 L440.15,218.14 L440.29,218.40 L440.43,218.66 L440.57,218.92 L440.72,219.17 L440.86,219.42 L441.01,219.66 L441.15,219.88 L441.30,220.10 L441.45,220.32 L441.60,220.55 L441.75,220.80 L441.91,221.06 L442.06,221.32 L442.22,221.60 L442.38,221.88 L442.54,222.16 L442.70,222.45 L442.85,222.73 L443.01,223.01 L443.17,223.29 L443.32,223.56 L443.48,223.81 L443.63,224.06 L443.79,224.29 L443.93,224.51 L444.08,224.71 L444.23,224.89 L444.37,225.04 L444.51,225.17 L444.64,225.28 L444.77,225.35 L444.90,225.40 M449.50,216.60 L449.62,216.35 L449.75,216.08 L449.88,215.81 L450.01,215.52 L450.15,215.23 L450.29,214.93 L450.43,214.62 L450.58,214.31 L450.73,214.00 L450.88,213.69 L451.03,213.37 L451.18,213.05 L451.34,212.73 L451.49,212.42 L451.65,212.10 L451.81,211.80 L451.97,211.49 L452.13,211.20 L452.29,210.91 L452.45,210.62 L452.62,210.35 L452.78,210.09 L452.94,209.84 L453.10,209.60 L453.26,209.38 L453.43,209.16 L453.59,208.96 L453.76,208.77 L453.93,208.59 L454.10,208.41 L454.28,208.25 L454.45,208.09 L454.63,207.93 L454.80,207.78 L454.98,207.63 L455.16,207.48 L455.33,207.34 L455.51,207.19 L455.68,207.04 L455.86,206.89 L456.03,206.74 L456.21,206.58 L456.38,206.42 L456.55,206.25 L456.71,206.08 L456.88,205.90 L457.04,205.70 L457.20,205.50 L457.36,205.29 L457.52,205.08 L457.68,204.87 L457.84,204.66 L458.00,204.44 L458.16,204.23 L458.32,204.01 L458.48,203.79 L458.64,203.56 L458.80,203.33 L458.95,203.10 L459.11,202.86 L459.26,202.62 L459.41,202.38 L459.55,202.13 L459.70,201.87 L459.84,201.61 L459.97,201.34 L460.11,201.07 L460.23,200.79 L460.36,200.50 L460.48,200.21 L460.59,199.91 L460.70,199.60 M462.30,190.50 L462.40,189.93 L462.51,189.32 L462.62,188.68 L462.74,188.01 L462.86,187.31 L462.99,186.58 L463.12,185.83 L463.26,185.07 L463.40,184.29 L463.54,183.50 L463.68,182.71 L463.82,181.91 L463.96,181.11 L464.10,180.31 L464.24,179.52 L464.37,178.74 L464.51,177.98 L464.64,177.23 L464.76,176.50 L464.88,175.80 L465.00,175.12 L465.11,174.48 L465.21,173.87 L465.30,173.30 M466.60,164.10 L466.69,163.50 L466.79,162.85 L466.90,162.16 L467.01,161.43 L467.13,160.67 L467.25,159.88 L467.38,159.07 L467.51,158.23 L467.65,157.38 L467.79,156.51 L467.92,155.64 L468.06,154.77 L468.20,153.90 L468.34,153.03 L468.47,152.17 L468.61,151.33 L468.74,150.50 L468.86,149.70 L468.99,148.92 L469.10,148.18 L469.21,147.47 L469.32,146.80 L469.41,146.18 L469.50,145.60 M470.60,137.70 L470.72,137.09 L470.85,136.43 L471.00,135.71 L471.16,134.95 L471.34,134.14 L471.52,133.30 L471.71,132.43 L471.91,131.53 L472.11,130.61 L472.32,129.68 L472.53,128.74 L472.74,127.79 L472.95,126.84 L473.16,125.89 L473.36,124.96 L473.56,124.04 L473.75,123.15 L473.94,122.28 L474.11,121.44 L474.28,120.64 L474.43,119.88 L474.57,119.16 L474.69,118.50 L474.80,117.90 M475.30,110.20 L475.38,109.65 L475.47,109.06 L475.56,108.43 L475.67,107.76 L475.79,107.06 L475.91,106.33 L476.03,105.58 L476.17,104.80 L476.30,104.01 L476.44,103.21 L476.59,102.39 L476.73,101.58 L476.88,100.75 L477.02,99.93 L477.17,99.12 L477.31,98.32 L477.45,97.53 L477.59,96.76 L477.72,96.00 L477.85,95.28 L477.97,94.58 L478.09,93.92 L478.20,93.29 L478.30,92.70 M479.90,83.00 L480.00,82.41 L480.11,81.79 L480.22,81.13 L480.34,80.44 L480.46,79.72 L480.58,78.98 L480.71,78.22 L480.84,77.44 L480.98,76.64 L481.12,75.84 L481.25,75.03 L481.39,74.22 L481.53,73.41 L481.67,72.60 L481.82,71.80 L481.96,71.01 L482.09,70.23 L482.23,69.47 L482.37,68.74 L482.50,68.03 L482.63,67.34 L482.76,66.69 L482.88,66.08 L483.00,65.50 M485.50,56.30 L485.63,56.04 L485.76,55.78 L485.90,55.53 L486.05,55.29 L486.20,55.06 L486.35,54.84 L486.50,54.62 L486.66,54.42 L486.81,54.22 L486.97,54.04 L487.13,53.86 L487.29,53.70 L487.45,53.55 L487.62,53.41 L487.77,53.28 L487.93,53.16 L488.09,53.05 L488.24,52.96 L488.40,52.88 L488.55,52.82 L488.69,52.77 L488.83,52.73 L488.97,52.71 L489.10,52.70 L489.23,52.71 L489.35,52.73 L489.47,52.77 L489.59,52.82 L489.71,52.88 L489.82,52.96 L489.93,53.05 L490.04,53.16 L490.15,53.28 L490.25,53.41 L490.36,53.55 L490.46,53.70 L490.57,53.86 L490.67,54.04 L490.77,54.22 L490.87,54.42 L490.97,54.62 L491.07,54.84 L491.18,55.06 L491.28,55.29 L491.38,55.53 L491.49,55.78 L491.59,56.04 L491.70,56.30 L491.81,56.58 L491.92,56.87 L492.03,57.18 L492.15,57.50 L492.26,57.84 L492.38,58.19 L492.49,58.56 L492.61,58.93 L492.72,59.31 L492.84,59.71 L492.95,60.11 L493.07,60.51 L493.18,60.92 L493.29,61.34 L493.41,61.76 L493.51,62.18 L493.62,62.60 L493.73,63.03 L493.83,63.45 L493.93,63.87 L494.03,64.28 L494.12,64.69 L494.21,65.10 L494.30,65.50 M495.80,75.30 L495.89,75.90 L495.98,76.54 L496.08,77.21 L496.18,77.92 L496.29,78.66 L496.40,79.42 L496.51,80.20 L496.63,81.00 L496.74,81.82 L496.86,82.64 L496.98,83.48 L497.10,84.31 L497.22,85.15 L497.34,85.98 L497.46,86.80 L497.57,87.61 L497.69,88.40 L497.80,89.17 L497.91,89.93 L498.02,90.65 L498.12,91.34 L498.22,92.00 L498.31,92.62 L498.40,93.20 M499.90,102.00 L499.99,102.58 L500.08,103.20 L500.19,103.86 L500.29,104.56 L500.40,105.28 L500.52,106.04 L500.64,106.82 L500.76,107.61 L500.88,108.43 L501.00,109.25 L501.13,110.09 L501.25,110.92 L501.37,111.76 L501.50,112.60 L501.62,113.42 L501.73,114.24 L501.85,115.04 L501.96,115.82 L502.06,116.58 L502.16,117.31 L502.26,118.02 L502.35,118.68 L502.43,119.31 L502.50,119.90 M503.20,129.10 L503.27,129.68 L503.35,130.31 L503.44,130.98 L503.54,131.68 L503.64,132.40 L503.75,133.16 L503.86,133.94 L503.97,134.74 L504.09,135.55 L504.21,136.37 L504.34,137.20 L504.46,138.04 L504.59,138.87 L504.71,139.70 L504.84,140.52 L504.96,141.33 L505.08,142.12 L505.20,142.90 L505.31,143.64 L505.42,144.37 L505.52,145.06 L505.62,145.71 L505.71,146.33 L505.80,146.90 M507.10,155.50 L507.20,156.07 L507.30,156.68 L507.41,157.33 L507.53,158.02 L507.65,158.74 L507.77,159.48 L507.90,160.25 L508.04,161.03 L508.17,161.84 L508.31,162.65 L508.46,163.47 L508.60,164.30 L508.75,165.13 L508.89,165.95 L509.04,166.77 L509.19,167.58 L509.33,168.37 L509.48,169.15 L509.62,169.90 L509.76,170.62 L509.90,171.32 L510.04,171.99 L510.17,172.61 L510.30,173.20 M513.20,182.60 L513.33,182.85 L513.46,183.07 L513.59,183.28 L513.72,183.47 L513.85,183.64 L513.98,183.79 L514.10,183.94 L514.23,184.07 L514.36,184.19 L514.49,184.29 L514.63,184.39 L514.76,184.49 L514.90,184.57 L515.04,184.66 L515.19,184.73 L515.33,184.81 L515.49,184.89 L515.64,184.96 L515.80,185.04 L515.97,185.12 L516.14,185.21 L516.32,185.30 L516.51,185.39 L516.70,185.50 L516.90,185.61 L517.10,185.70 L517.31,185.79 L517.52,185.88 L517.73,185.95 L517.95,186.03 L518.18,186.10 L518.40,186.17 L518.64,186.23 L518.87,186.30 L519.11,186.37 L519.36,186.44 L519.60,186.52 L519.86,186.60 L520.11,186.69 L520.37,186.78 L520.64,186.88 L520.91,186.99 L521.18,187.11 L521.46,187.24 L521.74,187.38 L522.02,187.54 L522.31,187.71 L522.60,187.90 L522.90,188.11 L523.21,188.34 L523.54,188.60 L523.87,188.87 L524.22,189.16 L524.57,189.47 L524.93,189.79 L525.29,190.12 L525.66,190.46 L526.03,190.80 L526.40,191.15 L526.78,191.49 L527.15,191.84 L527.51,192.18 L527.88,192.52 L528.24,192.85 L528.60,193.17 L528.94,193.47 L529.28,193.76 L529.61,194.03 L529.93,194.29 L530.23,194.52 L530.52,194.72 L530.80,194.90 M539.60,196.70 L539.80,196.82 L539.99,196.93 L540.19,197.05 L540.39,197.16 L540.60,197.28 L540.80,197.40 L541.01,197.53 L541.21,197.66 L541.42,197.80 L541.64,197.94 L541.85,198.10 L542.07,198.26 L542.29,198.44 L542.51,198.63 L542.74,198.83 L542.96,199.04 L543.19,199.27 L543.43,199.52 L543.66,199.78 L543.90,200.06 L544.15,200.37 L544.39,200.69 L544.65,201.03 L544.90,201.40 L545.16,201.80 L545.43,202.25 L545.72,202.73 L546.01,203.24 L546.31,203.79 L546.61,204.36 L546.92,204.96 L547.23,205.58 L547.55,206.21 L547.87,206.85 L548.19,207.50 L548.51,208.16 L548.82,208.81 L549.14,209.46 L549.45,210.10 L549.76,210.73 L550.06,211.35 L550.35,211.94 L550.63,212.52 L550.91,213.06 L551.18,213.58 L551.43,214.06 L551.67,214.50 L551.90,214.90 M559.00,222.50 L559.25,222.65 L559.51,222.79 L559.79,222.93 L560.08,223.07 L560.37,223.21 L560.68,223.35 L561.00,223.49 L561.32,223.63 L561.66,223.78 L562.00,223.92 L562.35,224.07 L562.70,224.22 L563.06,224.38 L563.42,224.55 L563.79,224.71 L564.17,224.89 L564.54,225.07 L564.92,225.26 L565.30,225.46 L565.68,225.67 L566.06,225.88 L566.44,226.11 L566.82,226.35 L567.20,226.60 L567.58,226.87 L567.98,227.15 L568.40,227.46 L568.82,227.78 L569.25,228.12 L569.70,228.47 L570.14,228.83 L570.60,229.20 L571.05,229.57 L571.51,229.95 L571.96,230.34 L572.42,230.73 L572.87,231.11 L573.31,231.49 L573.75,231.87 L574.18,232.25 L574.60,232.61 L575.01,232.97 L575.40,233.32 L575.78,233.65 L576.14,233.96 L576.48,234.26 L576.80,234.54 L577.10,234.80 M585.50,241.60 L585.69,241.70 L585.88,241.79 L586.07,241.88 L586.26,241.96 L586.45,242.04 L586.64,242.12 L586.82,242.19 L587.01,242.26 L587.20,242.32 L587.39,242.39 L587.58,242.45 L587.77,242.51 L587.96,242.57 L588.15,242.64 L588.35,242.70 L588.54,242.77 L588.74,242.83 L588.94,242.90 L589.15,242.98 L589.35,243.05 L589.56,243.13 L589.77,243.22 L589.98,243.31 L590.20,243.40 L590.42,243.50 L590.65,243.62 L590.88,243.75 L591.12,243.88 L591.37,244.02 L591.61,244.17 L591.86,244.33 L592.11,244.48 L592.37,244.64 L592.62,244.80 L592.88,244.96 L593.14,245.11 L593.39,245.26 L593.65,245.41 L593.90,245.55 L594.15,245.69 L594.40,245.81 L594.64,245.92 L594.88,246.02 L595.12,246.11 L595.35,246.18 L595.57,246.24 L595.79,246.28 L596.00,246.30 L596.20,246.30 L596.40,246.29 L596.60,246.26 L596.79,246.21 L596.98,246.15 L597.16,246.08 L597.34,246.00 L597.51,245.91 L597.69,245.81 L597.86,245.70 L598.03,245.58 L598.19,245.46 L598.36,245.34 L598.52,245.20 L598.68,245.07 L598.84,244.93 L599.00,244.80 L599.16,244.66 L599.31,244.52 L599.47,244.39 L599.63,244.26 L599.78,244.13 L599.94,244.01 L600.10,243.90 L600.26,243.79 L600.41,243.67 L600.56,243.55 L600.71,243.42 L600.85,243.29 L601.00,243.15 L601.14,243.02 L601.28,242.88 L601.42,242.74 L601.56,242.61 L601.69,242.47 L601.83,242.33 L601.97,242.20 L602.11,242.06 L602.25,241.93 L602.39,241.81 L602.53,241.69 L602.68,241.57 L602.82,241.46 L602.97,241.35 L603.12,241.25 L603.28,241.16 L603.44,241.08 L603.60,241.00 M612.40,242.20 L612.60,242.36 L612.81,242.53 L613.02,242.73 L613.23,242.95 L613.45,243.18 L613.67,243.43 L613.89,243.69 L614.11,243.95 L614.34,244.22 L614.57,244.50 L614.79,244.77 L615.02,245.05 L615.25,245.32 L615.47,245.59 L615.70,245.85 L615.92,246.09 L616.14,246.33 L616.36,246.55 L616.57,246.75 L616.79,246.93 L617.00,247.08 L617.20,247.22 L617.40,247.32 L617.60,247.40 L617.79,247.45 L617.98,247.47 L618.16,247.48 L618.34,247.46 L618.52,247.42 L618.69,247.37 L618.86,247.30 L619.03,247.21 L619.19,247.11 L619.36,247.00 L619.52,246.88 L619.68,246.76 L619.84,246.62 L620.00,246.48 L620.17,246.34 L620.33,246.19 L620.49,246.04 L620.66,245.89 L620.83,245.75 L620.99,245.60 L621.17,245.47 L621.34,245.34 L621.52,245.21 L621.70,245.10 L621.89,244.99 L622.07,244.87 L622.27,244.75 L622.46,244.62 L622.66,244.50 L622.86,244.36 L623.06,244.23 L623.27,244.09 L623.47,243.96 L623.68,243.82 L623.88,243.68 L624.09,243.54 L624.29,243.41 L624.50,243.28 L624.70,243.15 L624.90,243.02 L625.10,242.90 L625.30,242.78 L625.49,242.66 L625.68,242.56 L625.87,242.46 L626.05,242.36 L626.23,242.28 L626.40,242.20 L626.57,242.13 L626.73,242.06 L626.89,241.99 L627.04,241.93 L627.19,241.87 L627.33,241.82 L627.48,241.77 L627.61,241.72 L627.75,241.67 L627.89,241.64 L628.02,241.60 L628.16,241.57 L628.29,241.54 L628.42,241.52 L628.56,241.50 L628.70,241.49 L628.83,241.49 L628.98,241.49 L629.12,241.49 L629.27,241.50 L629.42,241.52 L629.57,241.54 L629.73,241.57 L629.90,241.60 M638.60,246.90 L638.77,246.98 L638.94,247.06 L639.11,247.13 L639.28,247.20 L639.44,247.27 L639.61,247.33 L639.78,247.39 L639.94,247.44 L640.11,247.49 L640.28,247.54 L640.45,247.59 L640.61,247.63 L640.78,247.67 L640.95,247.71 L641.12,247.75 L641.29,247.78 L641.46,247.81 L641.63,247.84 L641.81,247.87 L641.98,247.90 L642.16,247.93 L642.34,247.95 L642.52,247.98 L642.70,248.00 L642.89,248.02 L643.07,248.04 L643.27,248.06 L643.46,248.08 L643.66,248.09 L643.86,248.10 L644.06,248.11 L644.26,248.12 L644.47,248.13 L644.67,248.13 L644.88,248.14 L645.08,248.14 L645.29,248.14 L645.49,248.13 L645.69,248.13 L645.89,248.12 L646.09,248.11 L646.29,248.10 L646.48,248.09 L646.67,248.08 L646.86,248.06 L647.04,248.04 L647.22,248.02 L647.40,248.00 L647.57,247.97 L647.75,247.94 L647.93,247.91 L648.11,247.87 L648.28,247.82 L648.46,247.78 L648.64,247.73 L648.81,247.67 L648.99,247.62 L649.16,247.56 L649.33,247.51 L649.49,247.45 L649.65,247.39 L649.81,247.34 L649.96,247.28 L650.11,247.23 L650.25,247.17 L650.38,247.12 L650.50,247.08 L650.62,247.03 L650.73,246.99 L650.83,246.96 L650.92,246.93 L651.00,246.90 " stroke="#000" stroke-width="2.2" fill="none" stroke-linejoin="round"/>
<line x1="74.30" y1="48.00" x2="74.30" y2="38.00" stroke="#000" stroke-width="2.15" />
<line x1="123.14" y1="48.00" x2="123.14" y2="38.00" stroke="#000" stroke-width="2.15" />
<line x1="171.98" y1="48.00" x2="171.98" y2="38.00" stroke="#000" stroke-width="2.15" />
<line x1="220.82" y1="48.00" x2="220.82" y2="38.00" stroke="#000" stroke-width="2.15" />
<line x1="269.66" y1="48.00" x2="269.66" y2="38.00" stroke="#000" stroke-width="2.15" />
<line x1="318.50" y1="48.00" x2="318.50" y2="38.00" stroke="#000" stroke-width="2.15" />
<line x1="84.07" y1="48.00" x2="84.07" y2="42.00" stroke="#000" stroke-width="2.15" />
<line x1="93.84" y1="48.00" x2="93.84" y2="42.00" stroke="#000" stroke-width="2.15" />
<line x1="103.60" y1="48.00" x2="103.60" y2="42.00" stroke="#000" stroke-width="2.15" />
<line x1="113.37" y1="48.00" x2="113.37" y2="42.00" stroke="#000" stroke-width="2.15" />
<line x1="132.91" y1="48.00" x2="132.91" y2="42.00" stroke="#000" stroke-width="2.15" />
<line x1="142.68" y1="48.00" x2="142.68" y2="42.00" stroke="#000" stroke-width="2.15" />
<line x1="152.44" y1="48.00" x2="152.44" y2="42.00" stroke="#000" stroke-width="2.15" />
<line x1="162.21" y1="48.00" x2="162.21" y2="42.00" stroke="#000" stroke-width="2.15" />
<line x1="181.75" y1="48.00" x2="181.75" y2="42.00" stroke="#000" stroke-width="2.15" />
<line x1="191.52" y1="48.00" x2="191.52" y2="42.00" stroke="#000" stroke-width="2.15" />
<line x1="201.28" y1="48.00" x2="201.28" y2="42.00" stroke="#000" stroke-width="2.15" />
<line x1="211.05" y1="48.00" x2="211.05" y2="42.00" stroke="#000" stroke-width="2.15" />
<line x1="230.59" y1="48.00" x2="230.59" y2="42.00" stroke="#000" stroke-width="2.15" />
<line x1="240.36" y1="48.00" x2="240.36" y2="42.00" stroke="#000" stroke-width="2.15" />
<line x1="250.12" y1="48.00" x2="250.12" y2="42.00" stroke="#000" stroke-width="2.15" />
<line x1="259.89" y1="48.00" x2="259.89" y2="42.00" stroke="#000" stroke-width="2.15" />
<line x1="279.43" y1="48.00" x2="279.43" y2="42.00" stroke="#000" stroke-width="2.15" />
<line x1="289.20" y1="48.00" x2="289.20" y2="42.00" stroke="#000" stroke-width="2.15" />
<line x1="298.96" y1="48.00" x2="298.96" y2="42.00" stroke="#000" stroke-width="2.15" />
<line x1="308.73" y1="48.00" x2="308.73" y2="42.00" stroke="#000" stroke-width="2.15" />
<line x1="74.30" y1="252.00" x2="74.30" y2="262.00" stroke="#000" stroke-width="2.15" />
<line x1="123.14" y1="252.00" x2="123.14" y2="262.00" stroke="#000" stroke-width="2.15" />
<line x1="171.98" y1="252.00" x2="171.98" y2="262.00" stroke="#000" stroke-width="2.15" />
<line x1="220.82" y1="252.00" x2="220.82" y2="262.00" stroke="#000" stroke-width="2.15" />
<line x1="269.66" y1="252.00" x2="269.66" y2="262.00" stroke="#000" stroke-width="2.15" />
<line x1="318.50" y1="252.00" x2="318.50" y2="262.00" stroke="#000" stroke-width="2.15" />
<line x1="84.07" y1="252.00" x2="84.07" y2="258.40" stroke="#000" stroke-width="2.15" />
<line x1="93.84" y1="252.00" x2="93.84" y2="258.40" stroke="#000" stroke-width="2.15" />
<line x1="103.60" y1="252.00" x2="103.60" y2="258.40" stroke="#000" stroke-width="2.15" />
<line x1="113.37" y1="252.00" x2="113.37" y2="258.40" stroke="#000" stroke-width="2.15" />
<line x1="132.91" y1="252.00" x2="132.91" y2="258.40" stroke="#000" stroke-width="2.15" />
<line x1="142.68" y1="252.00" x2="142.68" y2="258.40" stroke="#000" stroke-width="2.15" />
<line x1="152.44" y1="252.00" x2="152.44" y2="258.40" stroke="#000" stroke-width="2.15" />
<line x1="162.21" y1="252.00" x2="162.21" y2="258.40" stroke="#000" stroke-width="2.15" />
<line x1="181.75" y1="252.00" x2="181.75" y2="258.40" stroke="#000" stroke-width="2.15" />
<line x1="191.52" y1="252.00" x2="191.52" y2="258.40" stroke="#000" stroke-width="2.15" />
<line x1="201.28" y1="252.00" x2="201.28" y2="258.40" stroke="#000" stroke-width="2.15" />
<line x1="211.05" y1="252.00" x2="211.05" y2="258.40" stroke="#000" stroke-width="2.15" />
<line x1="230.59" y1="252.00" x2="230.59" y2="258.40" stroke="#000" stroke-width="2.15" />
<line x1="240.36" y1="252.00" x2="240.36" y2="258.40" stroke="#000" stroke-width="2.15" />
<line x1="250.12" y1="252.00" x2="250.12" y2="258.40" stroke="#000" stroke-width="2.15" />
<line x1="259.89" y1="252.00" x2="259.89" y2="258.40" stroke="#000" stroke-width="2.15" />
<line x1="279.43" y1="252.00" x2="279.43" y2="258.40" stroke="#000" stroke-width="2.15" />
<line x1="289.20" y1="252.00" x2="289.20" y2="258.40" stroke="#000" stroke-width="2.15" />
<line x1="298.96" y1="252.00" x2="298.96" y2="258.40" stroke="#000" stroke-width="2.15" />
<line x1="308.73" y1="252.00" x2="308.73" y2="258.40" stroke="#000" stroke-width="2.15" />
<line x1="74.30" y1="251.30" x2="84.80" y2="251.30" stroke="#000" stroke-width="2.15" />
<line x1="74.30" y1="158.90" x2="84.80" y2="158.90" stroke="#000" stroke-width="2.15" />
<line x1="74.30" y1="66.50" x2="84.80" y2="66.50" stroke="#000" stroke-width="2.15" />
<line x1="74.30" y1="232.82" x2="81.30" y2="232.82" stroke="#000" stroke-width="2.15" />
<line x1="74.30" y1="214.34" x2="81.30" y2="214.34" stroke="#000" stroke-width="2.15" />
<line x1="74.30" y1="195.86" x2="81.30" y2="195.86" stroke="#000" stroke-width="2.15" />
<line x1="74.30" y1="177.38" x2="81.30" y2="177.38" stroke="#000" stroke-width="2.15" />
<line x1="74.30" y1="140.42" x2="81.30" y2="140.42" stroke="#000" stroke-width="2.15" />
<line x1="74.30" y1="121.94" x2="81.30" y2="121.94" stroke="#000" stroke-width="2.15" />
<line x1="74.30" y1="103.46" x2="81.30" y2="103.46" stroke="#000" stroke-width="2.15" />
<line x1="74.30" y1="84.98" x2="81.30" y2="84.98" stroke="#000" stroke-width="2.15" />
<line x1="318.30" y1="206.64" x2="307.80" y2="206.64" stroke="#000" stroke-width="2.15" />
<line x1="318.30" y1="161.28" x2="307.80" y2="161.28" stroke="#000" stroke-width="2.15" />
<line x1="318.30" y1="115.92" x2="307.80" y2="115.92" stroke="#000" stroke-width="2.15" />
<line x1="318.30" y1="70.56" x2="307.80" y2="70.56" stroke="#000" stroke-width="2.15" />
<line x1="318.30" y1="229.32" x2="311.90" y2="229.32" stroke="#000" stroke-width="2.15" />
<line x1="318.30" y1="183.96" x2="311.90" y2="183.96" stroke="#000" stroke-width="2.15" />
<line x1="318.30" y1="138.60" x2="311.90" y2="138.60" stroke="#000" stroke-width="2.15" />
<line x1="318.30" y1="93.24" x2="311.90" y2="93.24" stroke="#000" stroke-width="2.15" />
<line x1="406.80" y1="48.20" x2="406.80" y2="38.20" stroke="#000" stroke-width="2.15" />
<line x1="455.64" y1="48.20" x2="455.64" y2="38.20" stroke="#000" stroke-width="2.15" />
<line x1="504.48" y1="48.20" x2="504.48" y2="38.20" stroke="#000" stroke-width="2.15" />
<line x1="553.32" y1="48.20" x2="553.32" y2="38.20" stroke="#000" stroke-width="2.15" />
<line x1="602.16" y1="48.20" x2="602.16" y2="38.20" stroke="#000" stroke-width="2.15" />
<line x1="651.00" y1="48.20" x2="651.00" y2="38.20" stroke="#000" stroke-width="2.15" />
<line x1="416.57" y1="48.20" x2="416.57" y2="42.20" stroke="#000" stroke-width="2.15" />
<line x1="426.34" y1="48.20" x2="426.34" y2="42.20" stroke="#000" stroke-width="2.15" />
<line x1="436.10" y1="48.20" x2="436.10" y2="42.20" stroke="#000" stroke-width="2.15" />
<line x1="445.87" y1="48.20" x2="445.87" y2="42.20" stroke="#000" stroke-width="2.15" />
<line x1="465.41" y1="48.20" x2="465.41" y2="42.20" stroke="#000" stroke-width="2.15" />
<line x1="475.18" y1="48.20" x2="475.18" y2="42.20" stroke="#000" stroke-width="2.15" />
<line x1="484.94" y1="48.20" x2="484.94" y2="42.20" stroke="#000" stroke-width="2.15" />
<line x1="494.71" y1="48.20" x2="494.71" y2="42.20" stroke="#000" stroke-width="2.15" />
<line x1="514.25" y1="48.20" x2="514.25" y2="42.20" stroke="#000" stroke-width="2.15" />
<line x1="524.02" y1="48.20" x2="524.02" y2="42.20" stroke="#000" stroke-width="2.15" />
<line x1="533.78" y1="48.20" x2="533.78" y2="42.20" stroke="#000" stroke-width="2.15" />
<line x1="543.55" y1="48.20" x2="543.55" y2="42.20" stroke="#000" stroke-width="2.15" />
<line x1="563.09" y1="48.20" x2="563.09" y2="42.20" stroke="#000" stroke-width="2.15" />
<line x1="572.86" y1="48.20" x2="572.86" y2="42.20" stroke="#000" stroke-width="2.15" />
<line x1="582.62" y1="48.20" x2="582.62" y2="42.20" stroke="#000" stroke-width="2.15" />
<line x1="592.39" y1="48.20" x2="592.39" y2="42.20" stroke="#000" stroke-width="2.15" />
<line x1="611.93" y1="48.20" x2="611.93" y2="42.20" stroke="#000" stroke-width="2.15" />
<line x1="621.70" y1="48.20" x2="621.70" y2="42.20" stroke="#000" stroke-width="2.15" />
<line x1="631.46" y1="48.20" x2="631.46" y2="42.20" stroke="#000" stroke-width="2.15" />
<line x1="641.23" y1="48.20" x2="641.23" y2="42.20" stroke="#000" stroke-width="2.15" />
<line x1="406.80" y1="252.00" x2="406.80" y2="262.00" stroke="#000" stroke-width="2.15" />
<line x1="455.64" y1="252.00" x2="455.64" y2="262.00" stroke="#000" stroke-width="2.15" />
<line x1="504.48" y1="252.00" x2="504.48" y2="262.00" stroke="#000" stroke-width="2.15" />
<line x1="553.32" y1="252.00" x2="553.32" y2="262.00" stroke="#000" stroke-width="2.15" />
<line x1="602.16" y1="252.00" x2="602.16" y2="262.00" stroke="#000" stroke-width="2.15" />
<line x1="651.00" y1="252.00" x2="651.00" y2="262.00" stroke="#000" stroke-width="2.15" />
<line x1="416.57" y1="252.00" x2="416.57" y2="258.40" stroke="#000" stroke-width="2.15" />
<line x1="426.34" y1="252.00" x2="426.34" y2="258.40" stroke="#000" stroke-width="2.15" />
<line x1="436.10" y1="252.00" x2="436.10" y2="258.40" stroke="#000" stroke-width="2.15" />
<line x1="445.87" y1="252.00" x2="445.87" y2="258.40" stroke="#000" stroke-width="2.15" />
<line x1="465.41" y1="252.00" x2="465.41" y2="258.40" stroke="#000" stroke-width="2.15" />
<line x1="475.18" y1="252.00" x2="475.18" y2="258.40" stroke="#000" stroke-width="2.15" />
<line x1="484.94" y1="252.00" x2="484.94" y2="258.40" stroke="#000" stroke-width="2.15" />
<line x1="494.71" y1="252.00" x2="494.71" y2="258.40" stroke="#000" stroke-width="2.15" />
<line x1="514.25" y1="252.00" x2="514.25" y2="258.40" stroke="#000" stroke-width="2.15" />
<line x1="524.02" y1="252.00" x2="524.02" y2="258.40" stroke="#000" stroke-width="2.15" />
<line x1="533.78" y1="252.00" x2="533.78" y2="258.40" stroke="#000" stroke-width="2.15" />
<line x1="543.55" y1="252.00" x2="543.55" y2="258.40" stroke="#000" stroke-width="2.15" />
<line x1="563.09" y1="252.00" x2="563.09" y2="258.40" stroke="#000" stroke-width="2.15" />
<line x1="572.86" y1="252.00" x2="572.86" y2="258.40" stroke="#000" stroke-width="2.15" />
<line x1="582.62" y1="252.00" x2="582.62" y2="258.40" stroke="#000" stroke-width="2.15" />
<line x1="592.39" y1="252.00" x2="592.39" y2="258.40" stroke="#000" stroke-width="2.15" />
<line x1="611.93" y1="252.00" x2="611.93" y2="258.40" stroke="#000" stroke-width="2.15" />
<line x1="621.70" y1="252.00" x2="621.70" y2="258.40" stroke="#000" stroke-width="2.15" />
<line x1="631.46" y1="252.00" x2="631.46" y2="258.40" stroke="#000" stroke-width="2.15" />
<line x1="641.23" y1="252.00" x2="641.23" y2="258.40" stroke="#000" stroke-width="2.15" />
<line x1="406.80" y1="251.40" x2="417.30" y2="251.40" stroke="#000" stroke-width="2.15" />
<line x1="406.80" y1="206.20" x2="417.30" y2="206.20" stroke="#000" stroke-width="2.15" />
<line x1="406.80" y1="161.00" x2="417.30" y2="161.00" stroke="#000" stroke-width="2.15" />
<line x1="406.80" y1="115.80" x2="417.30" y2="115.80" stroke="#000" stroke-width="2.15" />
<line x1="406.80" y1="70.60" x2="417.30" y2="70.60" stroke="#000" stroke-width="2.15" />
<line x1="406.80" y1="228.80" x2="413.30" y2="228.80" stroke="#000" stroke-width="2.15" />
<line x1="406.80" y1="183.60" x2="413.30" y2="183.60" stroke="#000" stroke-width="2.15" />
<line x1="406.80" y1="138.40" x2="413.30" y2="138.40" stroke="#000" stroke-width="2.15" />
<line x1="406.80" y1="93.20" x2="413.30" y2="93.20" stroke="#000" stroke-width="2.15" />
<line x1="651.00" y1="183.50" x2="640.50" y2="183.50" stroke="#000" stroke-width="2.15" />
<line x1="651.00" y1="116.00" x2="640.50" y2="116.00" stroke="#000" stroke-width="2.15" />
<line x1="651.00" y1="237.50" x2="645.00" y2="237.50" stroke="#000" stroke-width="2.15" />
<line x1="651.00" y1="224.00" x2="645.00" y2="224.00" stroke="#000" stroke-width="2.15" />
<line x1="651.00" y1="210.50" x2="645.00" y2="210.50" stroke="#000" stroke-width="2.15" />
<line x1="651.00" y1="197.00" x2="645.00" y2="197.00" stroke="#000" stroke-width="2.15" />
<line x1="651.00" y1="170.00" x2="645.00" y2="170.00" stroke="#000" stroke-width="2.15" />
<line x1="651.00" y1="156.50" x2="645.00" y2="156.50" stroke="#000" stroke-width="2.15" />
<line x1="651.00" y1="143.00" x2="645.00" y2="143.00" stroke="#000" stroke-width="2.15" />
<line x1="651.00" y1="129.50" x2="645.00" y2="129.50" stroke="#000" stroke-width="2.15" />
<line x1="651.00" y1="102.50" x2="645.00" y2="102.50" stroke="#000" stroke-width="2.15" />
<line x1="651.00" y1="89.00" x2="645.00" y2="89.00" stroke="#000" stroke-width="2.15" />
<line x1="651.00" y1="75.50" x2="645.00" y2="75.50" stroke="#000" stroke-width="2.15" />
<line x1="651.00" y1="62.00" x2="645.00" y2="62.00" stroke="#000" stroke-width="2.15" />
<rect x="74.30" y="48.00" width="244.00" height="204.00" fill="none" stroke="#000" stroke-width="2.15"/>
<rect x="406.80" y="48.20" width="244.20" height="203.80" fill="none" stroke="#000" stroke-width="2.15"/>
<path d="M130.20,85.40 L142.70,81.20 L142.70,89.60 Z" fill="#000"/>
<line x1="146.10" y1="85.40" x2="155.80" y2="85.40" stroke="#000" stroke-width="2.2" />
<line x1="161.90" y1="85.40" x2="172.10" y2="85.40" stroke="#000" stroke-width="2.2" />
<path d="M425.80,82.50 L438.60,78.30 L438.60,86.70 Z" fill="#000"/>
<line x1="441.20" y1="82.50" x2="451.40" y2="82.50" stroke="#000" stroke-width="2.2" />
<line x1="457.20" y1="82.50" x2="467.70" y2="82.50" stroke="#000" stroke-width="2.2" />
<line x1="211.2" y1="129.0" x2="240.9" y2="128.5" stroke="#ff0000" stroke-width="2.5"/>
<path d="M253.10,128.50 L240.90,124.50 L240.90,132.50 Z" fill="#ff0000"/>
<line x1="558.4" y1="132.2" x2="588.3" y2="131.5" stroke="#ff0000" stroke-width="2.5"/>
<path d="M600.60,131.50 L588.30,127.50 L588.30,135.50 Z" fill="#ff0000"/>
<rect x="91.90" y="400.80" width="244.00" height="203.20" fill="none" stroke="#000" stroke-width="2.15"/>
<rect x="425.20" y="400.80" width="244.30" height="203.20" fill="none" stroke="#000" stroke-width="2.15"/>
<path d="M90.71,471.15 L104.71,471.15 L97.71,483.05 Z" fill="#ff0000"/>
<rect x="93.41" y="483.30" width="8.6" height="8.6" fill="none" stroke="#000" stroke-width="2.3"/>
<path d="M97.71,490.60 L104.81,502.90 L90.61,502.90 Z" fill="#0000ff"/>
<path d="M119.76,473.15 L133.76,473.15 L126.76,485.05 Z" fill="#ff0000"/>
<rect x="122.46" y="485.50" width="8.6" height="8.6" fill="none" stroke="#000" stroke-width="2.3"/>
<path d="M126.76,496.60 L133.86,508.90 L119.66,508.90 Z" fill="#0000ff"/>
<path d="M154.62,482.25 L168.62,482.25 L161.62,494.15 Z" fill="#ff0000"/>
<rect x="157.32" y="497.70" width="8.6" height="8.6" fill="none" stroke="#000" stroke-width="2.3"/>
<path d="M161.62,511.70 L168.72,524.00 L154.52,524.00 Z" fill="#0000ff"/>
<path d="M177.86,489.25 L191.86,489.25 L184.86,501.15 Z" fill="#ff0000"/>
<rect x="180.56" y="506.70" width="8.6" height="8.6" fill="none" stroke="#000" stroke-width="2.3"/>
<path d="M184.86,521.00 L191.96,533.30 L177.76,533.30 Z" fill="#0000ff"/>
<path d="M201.10,496.25 L215.10,496.25 L208.10,508.15 Z" fill="#ff0000"/>
<rect x="203.80" y="514.00" width="8.6" height="8.6" fill="none" stroke="#000" stroke-width="2.3"/>
<path d="M208.10,530.80 L215.20,543.10 L201.00,543.10 Z" fill="#0000ff"/>
<path d="M224.34,496.85 L238.34,496.85 L231.34,508.75 Z" fill="#ff0000"/>
<rect x="227.04" y="523.10" width="8.6" height="8.6" fill="none" stroke="#000" stroke-width="2.3"/>
<path d="M231.34,545.40 L238.44,557.70 L224.24,557.70 Z" fill="#0000ff"/>
<path d="M247.58,486.45 L261.58,486.45 L254.58,498.35 Z" fill="#ff0000"/>
<rect x="250.28" y="521.20" width="8.6" height="8.6" fill="none" stroke="#000" stroke-width="2.3"/>
<path d="M254.58,553.60 L261.68,565.90 L247.48,565.90 Z" fill="#0000ff"/>
<path d="M270.82,483.65 L284.82,483.65 L277.82,495.55 Z" fill="#ff0000"/>
<rect x="273.52" y="525.60" width="8.6" height="8.6" fill="none" stroke="#000" stroke-width="2.3"/>
<path d="M277.82,560.10 L284.92,572.40 L270.72,572.40 Z" fill="#0000ff"/>
<path d="M294.06,483.65 L308.06,483.65 L301.06,495.55 Z" fill="#ff0000"/>
<rect x="296.76" y="525.40" width="8.6" height="8.6" fill="none" stroke="#000" stroke-width="2.3"/>
<path d="M301.06,564.20 L308.16,576.50 L293.96,576.50 Z" fill="#0000ff"/>
<path d="M317.30,487.05 L331.30,487.05 L324.30,498.95 Z" fill="#ff0000"/>
<rect x="320.00" y="528.80" width="8.6" height="8.6" fill="none" stroke="#000" stroke-width="2.3"/>
<path d="M324.30,563.40 L331.40,575.70 L317.20,575.70 Z" fill="#0000ff"/>
<path d="M424.01,471.55 L438.01,471.55 L431.01,483.45 Z" fill="#ff0000"/>
<path d="M431.01,492.00 L438.11,504.30 L423.91,504.30 Z" fill="#0000ff"/>
<line x1="431.01" y1="487.30" x2="443.01" y2="487.30" stroke="#000" stroke-width="2.2" />
<path d="M453.06,468.45 L467.06,468.45 L460.06,480.35 Z" fill="#ff0000"/>
<path d="M460.06,495.00 L467.16,507.30 L452.96,507.30 Z" fill="#0000ff"/>
<line x1="460.06" y1="487.30" x2="472.06" y2="487.30" stroke="#000" stroke-width="2.2" />
<path d="M487.92,461.95 L501.92,461.95 L494.92,473.85 Z" fill="#ff0000"/>
<path d="M494.92,518.50 L502.02,530.80 L487.82,530.80 Z" fill="#0000ff"/>
<line x1="494.92" y1="495.60" x2="506.92" y2="495.60" stroke="#000" stroke-width="2.2" />
<path d="M511.16,447.55 L525.16,447.55 L518.16,459.45 Z" fill="#ff0000"/>
<path d="M518.16,526.00 L525.26,538.30 L511.06,538.30 Z" fill="#0000ff"/>
<line x1="518.16" y1="492.00" x2="530.16" y2="492.00" stroke="#000" stroke-width="2.2" />
<path d="M534.40,443.15 L548.40,443.15 L541.40,455.05 Z" fill="#ff0000"/>
<path d="M541.40,534.70 L548.50,547.00 L534.30,547.00 Z" fill="#0000ff"/>
<line x1="541.40" y1="494.50" x2="553.40" y2="494.50" stroke="#000" stroke-width="2.2" />
<path d="M557.64,435.65 L571.64,435.65 L564.64,447.55 Z" fill="#ff0000"/>
<path d="M564.64,546.00 L571.74,558.30 L557.54,558.30 Z" fill="#0000ff"/>
<line x1="564.64" y1="495.40" x2="576.64" y2="495.40" stroke="#000" stroke-width="2.2" />
<path d="M580.88,424.45 L594.88,424.45 L587.88,436.35 Z" fill="#ff0000"/>
<path d="M587.88,557.40 L594.98,569.70 L580.78,569.70 Z" fill="#0000ff"/>
<line x1="587.88" y1="496.20" x2="599.88" y2="496.20" stroke="#000" stroke-width="2.2" />
<path d="M604.12,424.45 L618.12,424.45 L611.12,436.35 Z" fill="#ff0000"/>
<path d="M611.12,562.50 L618.22,574.80 L604.02,574.80 Z" fill="#0000ff"/>
<line x1="611.12" y1="498.00" x2="623.12" y2="498.00" stroke="#000" stroke-width="2.2" />
<path d="M627.36,424.45 L641.36,424.45 L634.36,436.35 Z" fill="#ff0000"/>
<path d="M634.36,563.30 L641.46,575.60 L627.26,575.60 Z" fill="#0000ff"/>
<line x1="634.36" y1="499.10" x2="646.36" y2="499.10" stroke="#000" stroke-width="2.2" />
<path d="M650.60,420.95 L664.60,420.95 L657.60,432.85 Z" fill="#ff0000"/>
<path d="M657.60,562.50 L664.70,574.80 L650.50,574.80 Z" fill="#0000ff"/>
<line x1="657.60" y1="496.90" x2="669.60" y2="496.90" stroke="#000" stroke-width="2.2" />
<text transform="translate(79.20,22.60) scale(1.0,1.0)" font-size="33" text-anchor="start" font-weight="bold" font-style="normal">a</text>
<text transform="translate(109.80,22.60) scale(1.0,1.05)" font-size="28" text-anchor="start" font-weight="normal" font-style="normal"><tspan font-style="italic">P</tspan>=<tspan dx="1.3">0.25 mW</tspan></text>
<text transform="translate(418.90,24.70) scale(1.0,1.0)" font-size="33" text-anchor="start" font-weight="bold" font-style="normal">b</text>
<text transform="translate(451.20,24.70) scale(1.0,1.05)" font-size="28" text-anchor="start" font-weight="normal" font-style="normal"><tspan font-style="italic">P</tspan>=<tspan dx="1.3">5 mW</tspan></text>
<text transform="translate(78.50,373.00) scale(1.0,1.0)" font-size="33" text-anchor="start" font-weight="bold" font-style="normal">c</text>
<text transform="translate(107.40,373.00) scale(1.0,1.05)" font-size="28" text-anchor="start" font-weight="normal" font-style="normal"><tspan font-style="italic">t</tspan>=<tspan dx="1.3">26 ns</tspan></text>
<text transform="translate(416.80,371.50) scale(1.0,1.0)" font-size="33" text-anchor="start" font-weight="bold" font-style="normal">d</text>
<text transform="translate(448.70,371.50) scale(1.0,1.05)" font-size="28" text-anchor="start" font-weight="normal" font-style="normal"><tspan font-style="italic">t</tspan>=<tspan dx="1.6">62</tspan><tspan dx="1.2"> ns</tspan></text>
<text transform="translate(62.20,74.40) scale(1.0,1.1)" font-size="22" text-anchor="end" font-weight="normal" font-style="normal">10</text>
<text transform="translate(62.20,166.55) scale(1.0,1.1)" font-size="22" text-anchor="end" font-weight="normal" font-style="normal">5</text>
<text transform="translate(62.20,258.70) scale(1.0,1.1)" font-size="22" text-anchor="end" font-weight="normal" font-style="normal">0</text>
<text transform="translate(330.60,259.90) scale(1.0,1.1)" font-size="22" text-anchor="start" font-weight="normal" font-style="normal">0</text>
<text transform="translate(330.60,214.54) scale(1.0,1.1)" font-size="22" text-anchor="start" font-weight="normal" font-style="normal">2</text>
<text transform="translate(330.60,169.18) scale(1.0,1.1)" font-size="22" text-anchor="start" font-weight="normal" font-style="normal">4</text>
<text transform="translate(330.60,123.82) scale(1.0,1.1)" font-size="22" text-anchor="start" font-weight="normal" font-style="normal">6</text>
<text transform="translate(330.60,78.46) scale(1.0,1.1)" font-size="22" text-anchor="start" font-weight="normal" font-style="normal">8</text>
<text transform="translate(74.30,294.90) scale(1.0,1.1)" font-size="22" text-anchor="middle" font-weight="normal" font-style="normal">0</text>
<text transform="translate(406.80,294.90) scale(1.0,1.1)" font-size="22" text-anchor="middle" font-weight="normal" font-style="normal">0</text>
<text transform="translate(123.14,294.90) scale(1.0,1.1)" font-size="22" text-anchor="middle" font-weight="normal" font-style="normal">2</text>
<text transform="translate(455.64,294.90) scale(1.0,1.1)" font-size="22" text-anchor="middle" font-weight="normal" font-style="normal">2</text>
<text transform="translate(171.98,294.90) scale(1.0,1.1)" font-size="22" text-anchor="middle" font-weight="normal" font-style="normal">4</text>
<text transform="translate(504.48,294.90) scale(1.0,1.1)" font-size="22" text-anchor="middle" font-weight="normal" font-style="normal">4</text>
<text transform="translate(220.82,294.90) scale(1.0,1.1)" font-size="22" text-anchor="middle" font-weight="normal" font-style="normal">6</text>
<text transform="translate(553.32,294.90) scale(1.0,1.1)" font-size="22" text-anchor="middle" font-weight="normal" font-style="normal">6</text>
<text transform="translate(269.66,294.90) scale(1.0,1.1)" font-size="22" text-anchor="middle" font-weight="normal" font-style="normal">8</text>
<text transform="translate(602.16,294.90) scale(1.0,1.1)" font-size="22" text-anchor="middle" font-weight="normal" font-style="normal">8</text>
<text transform="translate(318.50,294.90) scale(1.0,1.1)" font-size="22" text-anchor="middle" font-weight="normal" font-style="normal">10</text>
<text transform="translate(651.00,294.90) scale(1.0,1.1)" font-size="22" text-anchor="middle" font-weight="normal" font-style="normal">10</text>
<text transform="translate(395.00,259.40) scale(1.0,1.1)" font-size="22" text-anchor="end" font-weight="normal" font-style="normal">0</text>
<text transform="translate(395.00,214.20) scale(1.0,1.1)" font-size="22" text-anchor="end" font-weight="normal" font-style="normal">20</text>
<text transform="translate(395.00,169.00) scale(1.0,1.1)" font-size="22" text-anchor="end" font-weight="normal" font-style="normal">40</text>
<text transform="translate(395.00,123.80) scale(1.0,1.1)" font-size="22" text-anchor="end" font-weight="normal" font-style="normal">60</text>
<text transform="translate(395.00,78.60) scale(1.0,1.1)" font-size="22" text-anchor="end" font-weight="normal" font-style="normal">80</text>
<text transform="translate(662.80,258.90) scale(1.0,1.1)" font-size="22" text-anchor="start" font-weight="normal" font-style="normal">0</text>
<text transform="translate(662.80,191.40) scale(1.0,1.1)" font-size="22" text-anchor="start" font-weight="normal" font-style="normal">10</text>
<text transform="translate(662.80,123.90) scale(1.0,1.1)" font-size="22" text-anchor="start" font-weight="normal" font-style="normal">20</text>
<text transform="translate(662.80,56.40) scale(1.0,1.1)" font-size="22" text-anchor="start" font-weight="normal" font-style="normal">30</text>
<text transform="translate(70.50,611.90) scale(1.0,1.1)" font-size="22" text-anchor="end" font-weight="normal" font-style="normal">0</text>
<text transform="translate(403.50,611.90) scale(1.0,1.1)" font-size="22" text-anchor="end" font-weight="normal" font-style="normal">0</text>
<text transform="translate(70.50,561.10) scale(1.0,1.1)" font-size="22" text-anchor="end" font-weight="normal" font-style="normal">2</text>
<text transform="translate(403.50,561.10) scale(1.0,1.1)" font-size="22" text-anchor="end" font-weight="normal" font-style="normal">2</text>
<text transform="translate(70.50,510.30) scale(1.0,1.1)" font-size="22" text-anchor="end" font-weight="normal" font-style="normal">4</text>
<text transform="translate(403.50,510.30) scale(1.0,1.1)" font-size="22" text-anchor="end" font-weight="normal" font-style="normal">4</text>
<text transform="translate(70.50,459.50) scale(1.0,1.1)" font-size="22" text-anchor="end" font-weight="normal" font-style="normal">6</text>
<text transform="translate(403.50,459.50) scale(1.0,1.1)" font-size="22" text-anchor="end" font-weight="normal" font-style="normal">6</text>
<text transform="translate(70.50,408.70) scale(1.0,1.1)" font-size="22" text-anchor="end" font-weight="normal" font-style="normal">8</text>
<text transform="translate(403.50,408.70) scale(1.0,1.1)" font-size="22" text-anchor="end" font-weight="normal" font-style="normal">8</text>
<text transform="translate(91.90,647.00) scale(1.0,1.1)" font-size="22" text-anchor="middle" font-weight="normal" font-style="normal">0</text>
<text transform="translate(425.20,647.00) scale(1.0,1.1)" font-size="22" text-anchor="middle" font-weight="normal" font-style="normal">0</text>
<text transform="translate(138.38,647.00) scale(1.0,1.1)" font-size="22" text-anchor="middle" font-weight="normal" font-style="normal">2</text>
<text transform="translate(471.68,647.00) scale(1.0,1.1)" font-size="22" text-anchor="middle" font-weight="normal" font-style="normal">2</text>
<text transform="translate(184.86,647.00) scale(1.0,1.1)" font-size="22" text-anchor="middle" font-weight="normal" font-style="normal">4</text>
<text transform="translate(518.16,647.00) scale(1.0,1.1)" font-size="22" text-anchor="middle" font-weight="normal" font-style="normal">4</text>
<text transform="translate(231.34,647.00) scale(1.0,1.1)" font-size="22" text-anchor="middle" font-weight="normal" font-style="normal">6</text>
<text transform="translate(564.64,647.00) scale(1.0,1.1)" font-size="22" text-anchor="middle" font-weight="normal" font-style="normal">6</text>
<text transform="translate(277.82,647.00) scale(1.0,1.1)" font-size="22" text-anchor="middle" font-weight="normal" font-style="normal">8</text>
<text transform="translate(611.12,647.00) scale(1.0,1.1)" font-size="22" text-anchor="middle" font-weight="normal" font-style="normal">8</text>
<text transform="translate(324.30,647.00) scale(1.0,1.1)" font-size="22" text-anchor="middle" font-weight="normal" font-style="normal">10</text>
<text transform="translate(657.60,647.00) scale(1.0,1.1)" font-size="22" text-anchor="middle" font-weight="normal" font-style="normal">10</text>
<text transform="translate(173.10,327.80) scale(1.03,1.04)" font-size="22" text-anchor="start" font-weight="normal" font-style="normal"><tspan font-style="italic">k</tspan>, &#181;m</text>
<text transform="translate(225.60,313.00) scale(1.0,1.0)" font-size="14" text-anchor="start" font-weight="normal" font-style="normal">-1</text>
<text transform="translate(495.20,327.80) scale(1.03,1.04)" font-size="22" text-anchor="start" font-weight="normal" font-style="normal"><tspan font-style="italic">k</tspan>, &#181;m</text>
<text transform="translate(547.00,311.70) scale(1.0,1.0)" font-size="14" text-anchor="start" font-weight="normal" font-style="normal">-1</text>
<text transform="translate(179.80,679.00) scale(1.0,1.1)" font-size="22" text-anchor="start" font-weight="normal" font-style="normal"><tspan font-style="italic">P</tspan>, mW</text>
<text transform="translate(516.50,679.00) scale(1.0,1.1)" font-size="22" text-anchor="start" font-weight="normal" font-style="normal"><tspan font-style="italic">P</tspan>, mW</text>
<text transform="translate(21.80,241.30) rotate(-90) scale(1.047,1.06)" font-size="22" text-anchor="start" font-weight="normal" font-style="normal">Fourier amplitude</text>
<text transform="translate(24.00,523.00) rotate(-90) scale(1.05,1.1)" font-size="22" text-anchor="start" font-weight="normal" font-style="normal"><tspan font-style="italic">k</tspan>, &#181;m</text>
<text transform="translate(10.20,470.00) rotate(-90) scale(1.0,1.0)" font-size="14" text-anchor="start" font-weight="normal" font-style="normal">-1</text>
<text transform="translate(199.00,73.00) scale(1.06,0.97)" font-size="28" text-anchor="start" font-weight="normal" font-style="italic">k</text>
<text transform="translate(212.00,80.80) scale(1.0,1.12)" font-size="16" text-anchor="start" font-weight="normal" font-style="normal">0</text>
<text transform="translate(497.40,237.00) scale(1.08,0.99)" font-size="28" text-anchor="start" font-weight="normal" font-style="italic">k</text>
<text transform="translate(510.60,244.10) scale(1.0,1.0)" font-size="18" text-anchor="start" font-weight="normal" font-style="normal">C</text>
</svg>
</body></html>
